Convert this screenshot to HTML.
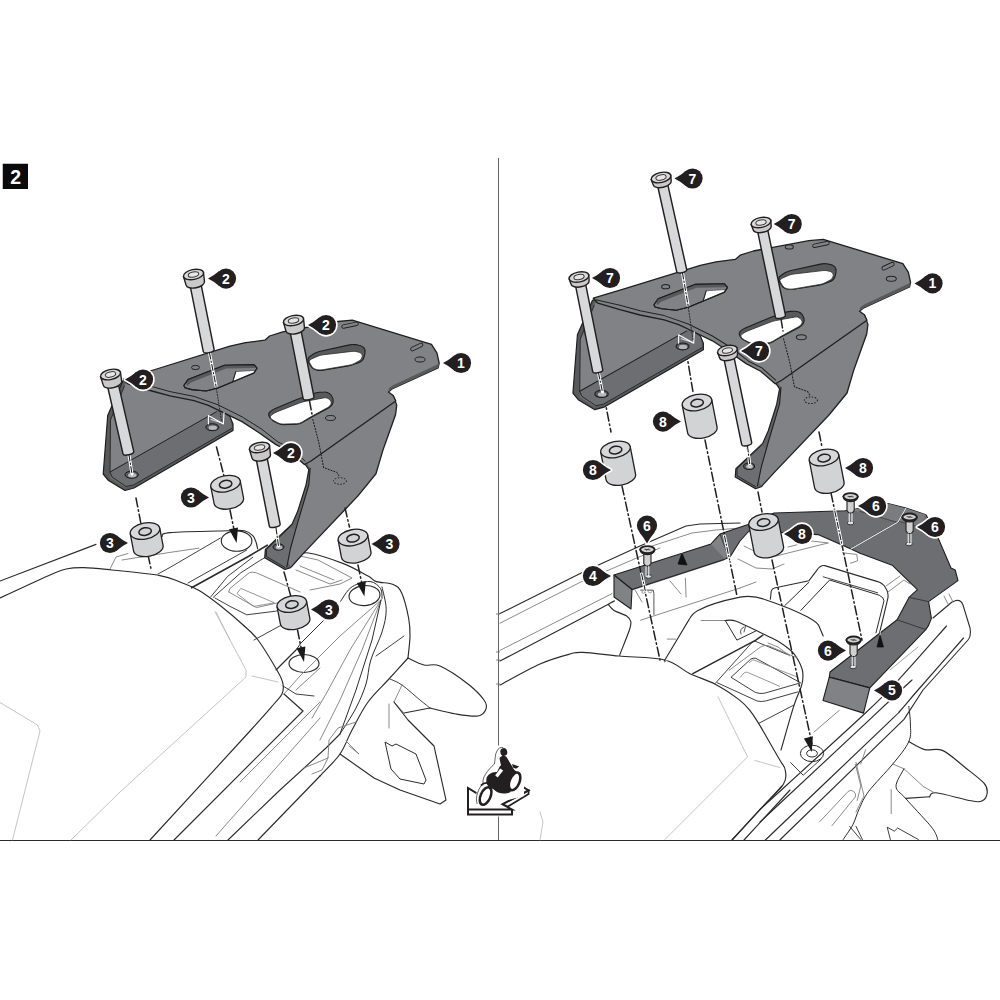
<!DOCTYPE html>
<html><head><meta charset="utf-8"><title>Assembly step 2</title>
<style>
html,body{margin:0;padding:0;background:#fff;}
body{width:1000px;height:1000px;overflow:hidden;position:relative;font-family:"Liberation Sans",sans-serif;}
svg{position:absolute;left:0;top:0;display:block;}
.lb{font-family:"Liberation Sans",sans-serif;font-weight:bold;font-size:14px;fill:#fff;text-anchor:middle;}
.st{font-family:"Liberation Sans",sans-serif;font-weight:bold;font-size:19.5px;fill:#fff;text-anchor:middle;}
</style></head><body>
<svg width="1000" height="1000" viewBox="0 0 1000 1000">
<rect x="0" y="0" width="1000" height="1000" fill="#fff"/>
<line x1="0" y1="840.5" x2="1000" y2="840.5" stroke="#2a2a2a" stroke-width="1.2"/>
<line x1="498.5" y1="158" x2="498.5" y2="840" stroke="#666" stroke-width="1"/>
<rect x="2.75" y="163.75" width="25.25" height="25.25" fill="#0a0a0a"/>
<text x="15.7" y="184" class="st">2</text>
<polyline points="0.0,581.0 96.0,544.4" fill="none" stroke="#2b2b2b" stroke-width="1.15" stroke-linejoin="round" stroke-linecap="round" />
<path d="M0.0,598.0 C8.3,594.2 39.0,579.8 50.0,575.0 C61.0,570.2 60.3,570.2 66.0,569.0 C71.7,567.8 76.3,567.4 84.0,567.6 C91.7,567.8 99.3,568.7 112.0,570.0 C124.7,571.3 148.7,573.6 160.0,575.6 C171.3,577.6 173.3,579.4 180.0,582.0 C186.7,584.6 193.0,586.8 200.0,591.0 C207.0,595.2 215.0,601.5 222.0,607.0 C229.0,612.5 236.0,618.5 242.0,624.0 C248.0,629.5 252.0,632.0 258.0,640.0 C264.0,648.0 273.8,664.7 278.0,672.0 C282.2,679.3 282.3,680.3 283.0,684.0 C283.7,687.7 283.5,690.7 282.0,694.0 C280.5,697.3 279.3,697.8 274.0,704.0 C268.7,710.2 270.7,708.3 250.0,731.0 C229.3,753.7 166.7,821.8 150.0,840.0" fill="none" stroke="#2b2b2b" stroke-width="1.15" stroke-linejoin="round" stroke-linecap="round" />
<polyline points="284.0,694.0 303.0,711.0 174.0,840.0" fill="none" stroke="#2b2b2b" stroke-width="1.15" stroke-linejoin="round" stroke-linecap="round" />
<polyline points="276.0,670.0 296.0,650.0" fill="none" stroke="#2b2b2b" stroke-width="1.15" stroke-linejoin="round" stroke-linecap="round" />
<path d="M162.0,536.5 C163.3,535.9 159.1,533.6 170.0,532.6 C180.9,531.6 215.2,531.1 227.6,530.8 C240.0,530.5 240.2,530.0 244.4,530.8 C248.6,531.6 250.9,533.7 252.8,535.6 C254.7,537.5 255.2,539.8 256.0,542.0 C256.8,544.2 257.3,547.7 257.6,548.8" fill="none" stroke="#2b2b2b" stroke-width="1.15" stroke-linejoin="round" stroke-linecap="round" />
<ellipse cx="236.6" cy="541.0" rx="15.3" ry="10.2" fill="none" stroke="#2b2b2b" stroke-width="1.15" />
<ellipse cx="364.5" cy="595.6" rx="15.5" ry="10.0" fill="none" stroke="#2b2b2b" stroke-width="1.15" transform="rotate(-5 364.5 595.6)" />
<ellipse cx="304.0" cy="663.5" rx="15.0" ry="9.0" fill="none" stroke="#2b2b2b" stroke-width="1.15" />
<polyline points="110.0,569.0 116.0,557.0 128.0,553.5" fill="none" stroke="#7d7d7d" stroke-width="0.9" stroke-linejoin="round" stroke-linecap="round" />
<polyline points="122.0,560.0 170.0,552.4 198.8,548.2" fill="none" stroke="#7d7d7d" stroke-width="0.9" stroke-linejoin="round" stroke-linecap="round" />
<polyline points="158.0,574.0 170.0,567.4 220.4,538.0" fill="none" stroke="#2b2b2b" stroke-width="0.9" stroke-linejoin="round" stroke-linecap="round" />
<polyline points="188.0,583.0 246.8,550.0" fill="none" stroke="#2b2b2b" stroke-width="0.9" stroke-linejoin="round" stroke-linecap="round" />
<polyline points="191.6,587.8 249.2,556.0 267.2,545.2" fill="none" stroke="#2b2b2b" stroke-width="1.6" stroke-linejoin="round" stroke-linecap="round" />
<polyline points="210.8,596.8 227.6,576.4 252.8,557.2" fill="none" stroke="#2b2b2b" stroke-width="0.9" stroke-linejoin="round" stroke-linecap="round" />
<polyline points="213.2,597.4 240.8,572.8 259.4,560.8 266.0,557.0" fill="none" stroke="#2b2b2b" stroke-width="0.9" stroke-linejoin="round" stroke-linecap="round" />
<polyline points="215.0,598.0 230.0,606.4 246.8,614.8 275.6,611.2 280.0,610.0" fill="none" stroke="#2b2b2b" stroke-width="0.9" stroke-linejoin="round" stroke-linecap="round" />
<polyline points="254.0,640.0 280.4,625.6" fill="none" stroke="#2b2b2b" stroke-width="0.9" stroke-linejoin="round" stroke-linecap="round" />
<path d="M228.8,592 L230,588.4 L249.2,572.8 Q252,571.5 256.4,572.8 L300,592 M228.8,592 L256.4,607.6 L278,602.8 L300,597" fill="none" stroke="#7d7d7d" stroke-width="0.9" stroke-linejoin="round" stroke-linecap="round" />
<path d="M237.2,593.2 L240.8,588.4 L274.4,602.8 L254,606.4 Z" fill="none" stroke="#7d7d7d" stroke-width="0.8" stroke-linejoin="round" stroke-linecap="round" />
<polyline points="291.0,566.0 300.0,556.0 318.0,560.0 352.0,578.0 340.0,584.0 310.0,590.0" fill="none" stroke="#7d7d7d" stroke-width="0.9" stroke-linejoin="round" stroke-linecap="round" />
<polyline points="296.0,570.0 330.0,584.0 342.0,580.0" fill="none" stroke="#7d7d7d" stroke-width="0.9" stroke-linejoin="round" stroke-linecap="round" />
<polyline points="300.0,566.0 334.0,580.0" fill="none" stroke="#7d7d7d" stroke-width="0.9" stroke-linejoin="round" stroke-linecap="round" />
<polyline points="215.0,611.8 230.0,640.0" fill="none" stroke="#b5b5b5" stroke-width="0.8" stroke-linejoin="round" stroke-linecap="round" />
<path d="M292.0,566.0 C293.3,564.5 297.2,559.2 300.0,557.0 C302.8,554.8 301.4,551.9 308.5,553.0 C315.6,554.1 332.9,559.6 342.8,563.4 C352.7,567.2 362.4,573.0 368.0,576.0 C373.6,579.0 372.2,580.2 376.4,581.6 C380.6,583.0 389.0,582.5 393.2,584.4 C397.4,586.3 399.0,587.2 401.6,592.8 C404.2,598.4 407.2,610.8 408.6,618.0 C410.0,625.2 410.1,629.3 410.0,636.0 C409.9,642.7 408.3,654.3 408.0,658.0" fill="none" stroke="#2b2b2b" stroke-width="1.15" stroke-linejoin="round" stroke-linecap="round" />
<path d="M340.7,601.2 C342.0,599.3 345.7,592.8 348.4,590.0 C351.1,587.2 353.1,585.8 356.8,584.4 C360.5,583.0 366.8,580.9 370.8,581.6 C374.8,582.3 378.7,585.8 380.6,588.6 C382.5,591.4 381.8,596.8 382.0,598.4" fill="none" stroke="#2b2b2b" stroke-width="1.0" stroke-linejoin="round" stroke-linecap="round" />
<polyline points="323.2,620.8 300.8,643.2 296.0,650.0" fill="none" stroke="#2b2b2b" stroke-width="1.0" stroke-linejoin="round" stroke-linecap="round" />
<path d="M382.0,587.0 C382.7,590.8 386.2,602.1 386.2,609.6 C386.2,617.1 384.6,623.6 382.0,632.0 C379.4,640.4 373.5,651.3 370.8,660.0 C368.1,668.7 368.5,676.0 366.0,684.0 C363.5,692.0 360.3,699.7 356.0,708.0 C351.7,716.3 342.7,729.7 340.0,734.0" fill="none" stroke="#2b2b2b" stroke-width="1.0" stroke-linejoin="round" stroke-linecap="round" />
<polyline points="376.0,656.0 404.0,636.0" fill="none" stroke="#2b2b2b" stroke-width="0.9" stroke-linejoin="round" stroke-linecap="round" />
<polyline points="381.0,600.0 340.0,636.0 300.0,676.0 284.0,694.0" fill="none" stroke="#7d7d7d" stroke-width="0.9" stroke-linejoin="round" stroke-linecap="round" />
<polyline points="381.0,600.0 350.0,650.0 326.0,694.0 312.0,718.0" fill="none" stroke="#7d7d7d" stroke-width="0.9" stroke-linejoin="round" stroke-linecap="round" />
<polyline points="381.0,600.0 362.0,650.0 340.0,700.0 320.0,740.0" fill="none" stroke="#7d7d7d" stroke-width="0.9" stroke-linejoin="round" stroke-linecap="round" />
<polyline points="381.0,600.0 372.0,640.0 356.0,690.0 340.0,734.0" fill="none" stroke="#2b2b2b" stroke-width="1.0" stroke-linejoin="round" stroke-linecap="round" />
<polyline points="320.0,668.0 296.0,690.0" fill="none" stroke="#7d7d7d" stroke-width="0.9" stroke-linejoin="round" stroke-linecap="round" />
<polyline points="283.0,686.0 296.0,694.0 314.0,696.0" fill="none" stroke="#2b2b2b" stroke-width="0.9" stroke-linejoin="round" stroke-linecap="round" />
<polyline points="320.0,702.0 240.0,782.0" fill="none" stroke="#7d7d7d" stroke-width="0.9" stroke-linejoin="round" stroke-linecap="round" />
<polyline points="320.0,718.0 216.0,836.0" fill="none" stroke="#7d7d7d" stroke-width="0.9" stroke-linejoin="round" stroke-linecap="round" />
<polyline points="340.0,734.0 326.0,748.0 280.0,790.0 228.0,840.0" fill="none" stroke="#2b2b2b" stroke-width="1.1" stroke-linejoin="round" stroke-linecap="round" />
<path d="M408.0,658.0 C404.7,661.7 394.7,672.7 388.0,680.0 C381.3,687.3 374.0,693.7 368.0,702.0 C362.0,710.3 356.7,721.3 352.0,730.0 C347.3,738.7 345.3,746.3 340.0,754.0 C334.7,761.7 323.3,772.3 320.0,776.0" fill="none" stroke="#2b2b2b" stroke-width="1.15" stroke-linejoin="round" stroke-linecap="round" />
<polyline points="320.0,776.0 258.0,840.0" fill="none" stroke="#2b2b2b" stroke-width="1.1" stroke-linejoin="round" stroke-linecap="round" />
<polyline points="356.0,722.0 338.0,728.0 329.0,740.0 328.0,758.0 304.0,768.0" fill="none" stroke="#7d7d7d" stroke-width="0.9" stroke-linejoin="round" stroke-linecap="round" />
<polyline points="328.0,758.0 322.0,770.0 312.0,774.0" fill="none" stroke="#7d7d7d" stroke-width="0.9" stroke-linejoin="round" stroke-linecap="round" />
<polyline points="346.0,741.0 359.0,754.0 349.0,746.0" fill="none" stroke="#7d7d7d" stroke-width="0.9" stroke-linejoin="round" stroke-linecap="round" />
<path d="M408.0,658.0 C410.7,659.2 418.7,663.7 424.0,665.0 C429.3,666.3 432.7,662.8 440.0,666.0 C447.3,669.2 460.7,678.3 468.0,684.0 C475.3,689.7 481.0,695.8 484.0,700.0 C487.0,704.2 487.0,706.3 486.0,709.0 C485.0,711.7 483.0,715.2 478.0,716.0 C473.0,716.8 464.0,715.3 456.0,714.0 C448.0,712.7 434.3,709.0 430.0,708.0" fill="none" stroke="#2b2b2b" stroke-width="1.15" stroke-linejoin="round" stroke-linecap="round" />
<polyline points="430.0,708.0 404.0,713.0" fill="none" stroke="#2b2b2b" stroke-width="1.15" stroke-linejoin="round" stroke-linecap="round" />
<path d="M390.0,679.0 C392.0,680.0 397.0,681.5 402.0,685.0 C407.0,688.5 415.3,696.2 420.0,700.0 C424.7,703.8 428.3,706.7 430.0,708.0" fill="none" stroke="#2b2b2b" stroke-width="0.9" stroke-linejoin="round" stroke-linecap="round" />
<polyline points="402.0,685.0 394.0,702.0 404.0,713.0" fill="none" stroke="#7d7d7d" stroke-width="0.9" stroke-linejoin="round" stroke-linecap="round" />
<polyline points="394.0,702.0 408.0,720.0 434.0,746.0 446.0,800.0 440.0,804.0 400.0,790.0 374.0,778.0 340.0,754.0" fill="none" stroke="#2b2b2b" stroke-width="1.15" stroke-linejoin="round" stroke-linecap="round" />
<polyline points="389.0,704.0 389.0,728.0" fill="none" stroke="#7d7d7d" stroke-width="0.9" stroke-linejoin="round" stroke-linecap="round" />
<polygon points="385.0,742.0 392.0,746.0 396.0,744.0 416.0,754.0 426.0,780.0 424.0,784.0 400.0,779.0 391.0,769.0" fill="none" stroke="#2b2b2b" stroke-width="1" stroke-linejoin="round" />
<polyline points="216.0,612.0 230.0,640.0 246.0,670.0 246.0,677.0 120.0,792.0 71.0,840.0" fill="none" stroke="#b5b5b5" stroke-width="0.8" stroke-linejoin="round" stroke-linecap="round" />
<polyline points="252.0,676.0 278.0,682.0" fill="none" stroke="#b5b5b5" stroke-width="0.8" stroke-linejoin="round" stroke-linecap="round" />
<polyline points="0.0,702.5 37.5,725.0 40.0,731.0 12.5,840.0" fill="none" stroke="#b5b5b5" stroke-width="0.8" stroke-linejoin="round" stroke-linecap="round" />
<line x1="496" y1="614" x2="500" y2="614" stroke="#666" stroke-width="0.8"/>
<line x1="496" y1="652" x2="500" y2="652" stroke="#666" stroke-width="0.8"/>
<line x1="496" y1="660" x2="500" y2="660" stroke="#666" stroke-width="0.8"/>
<line x1="496" y1="684" x2="500" y2="684" stroke="#666" stroke-width="0.8"/>
<g transform="translate(281 0) scale(1.0 1) translate(-281 0)">
<polygon points="122.7,381.0 107.7,415.5 103.2,474.0 108.5,480.5 125.0,490.5 134.0,488.0 233.0,430.5 233.0,424.0 230.0,416.8 222.8,412.0 240.0,405.0 200.0,385.0 140.0,375.0" fill="#58595b" stroke="#1f1f1f" stroke-width="1.2" stroke-linejoin="round" />
<polygon points="125.0,384.0 110.5,420.0 110.0,472.0 216.5,411.7 240.0,405.0 190.0,385.0 140.0,377.0" fill="#808285" stroke="none" stroke-width="1" stroke-linejoin="round" />
<polygon points="110.0,472.0 216.5,411.7 223.0,412.5 229.5,417.0 231.5,424.0 231.5,428.5 133.0,485.5 125.0,487.5 110.0,478.0" fill="#6d6e71" stroke="none" stroke-width="1" stroke-linejoin="round" />
<polyline points="110.0,472.0 216.5,411.7" fill="none" stroke="#222" stroke-width="1" stroke-linejoin="round" stroke-linecap="round" />
<polyline points="124.5,386.0 110.5,420.0 110.0,472.0 112.0,477.0 126.0,486.5 133.5,485.0 231.5,428.5" fill="none" stroke="#222" stroke-width="0.9" stroke-linejoin="round" stroke-linecap="round" />
<ellipse cx="131.7" cy="474.7" rx="6.7" ry="3.6" fill="#58595b" stroke="#1a1a1a" stroke-width="1" />
<ellipse cx="132.2" cy="475.2" rx="4.2" ry="2.2" fill="#b5b7ba" stroke="none" stroke-width="1" />
<ellipse cx="212.3" cy="427.2" rx="6.5" ry="3.5" fill="#58595b" stroke="#1a1a1a" stroke-width="1" />
<ellipse cx="212.8" cy="427.7" rx="4.2" ry="2.2" fill="#b5b7ba" stroke="none" stroke-width="1" />
<polygon points="300.0,455.0 302.5,462.6 306.0,465.4 308.8,469.6 306.0,485.0 297.6,511.6 292.0,524.2 265.4,549.4 264.7,557.8 285.0,569.5 290.6,567.6 303.2,553.6 357.8,496.2 376.0,473.8 383.0,450.0 395.6,414.8 396.8,405.2 393.2,395.6" fill="#636467" stroke="#1f1f1f" stroke-width="1.2" stroke-linejoin="round" />
<polygon points="304.0,458.0 310.2,468.2 308.8,485.0 297.6,522.8 290.6,548.0 287.5,561.0 290.6,566.4 302.6,553.0 357.0,495.4 375.0,473.2 382.0,450.0 394.6,414.6 395.8,405.2 394.0,399.0 311.0,452.0" fill="#808285" stroke="none" stroke-width="1" stroke-linejoin="round" />
<polygon points="266.5,549.5 290.0,527.0 296.0,530.0 291.0,545.0 288.0,566.0 284.5,567.5 267.0,556.5" fill="#6d6e71" stroke="none" stroke-width="1" stroke-linejoin="round" />
<polyline points="290.0,527.0 266.5,549.5 266.5,556.5 285.0,567.5" fill="none" stroke="#222" stroke-width="0.9" stroke-linejoin="round" stroke-linecap="round" />
<polyline points="310.2,468.2 308.8,485.0 297.6,522.8 290.6,548.0 286.8,566.8" fill="none" stroke="#1f1f1f" stroke-width="1.1" stroke-linejoin="round" stroke-linecap="round" />
<ellipse cx="278.5" cy="547.0" rx="5.5" ry="3.2" fill="#58595b" stroke="#1a1a1a" stroke-width="1" />
<ellipse cx="279.0" cy="547.5" rx="3.4" ry="1.9" fill="#b5b7ba" stroke="none" stroke-width="1" />
<polygon points="123.5,379.0 155.0,369.5 230.0,346.2 245.6,342.6 264.8,340.2 269.6,336.0 282.8,331.8 338.0,321.5 352.3,320.2 431.5,344.4 437.0,353.2 439.2,363.1 438.1,367.8 392.0,389.0 388.4,392.0 393.2,395.6 395.8,401.0 311.0,461.0 304.5,464.5 290.0,452.0 275.6,444.4 259.4,433.0 242.0,421.6 219.8,410.8 208.4,405.4 194.0,400.6 170.0,395.8 150.0,390.5 128.0,384.0" fill="#808285" stroke="#1f1f1f" stroke-width="1.3" stroke-linejoin="round" />
<polygon points="439.2,363.1 438.1,367.8 392.0,389.0 388.4,392.0 389.0,388.0 392.5,385.5 437.4,364.4" fill="#58595b" stroke="none" stroke-width="1" stroke-linejoin="round" />
<polyline points="305.0,461.0 291.0,448.5 278.0,442.0 261.2,428.8 242.0,416.8 218.0,404.8 194.0,396.4 170.0,391.6 150.0,386.0 126.0,380.5" fill="none" stroke="#232323" stroke-width="1" stroke-linejoin="round" stroke-linecap="round" />
<polygon points="183.8,385.5 188.0,379.6 224.6,365.2 254.0,364.6 257.0,368.2 254.0,373.0 218.0,388.0 206.0,391.0 191.6,389.6 185.0,387.8" fill="#808285" stroke="#1f1f1f" stroke-width="1.1" stroke-linejoin="round" />
<polygon points="186.0,382.0 189.0,379.6 225.0,365.2 254.0,364.6 256.5,367.0 254.0,368.0 226.0,368.5 191.0,382.5 187.0,386.0" fill="#58595b" stroke="none" stroke-width="1" stroke-linejoin="round" />
<polygon points="235.8,371.6 254.6,370.4 254.0,372.6 232.8,381.6" fill="#fff" stroke="#333" stroke-width="0.6" stroke-linejoin="round" />
<polyline points="235.8,371.6 232.8,381.6" fill="none" stroke="#222" stroke-width="1" stroke-linejoin="round" stroke-linecap="round" />
<polygon points="183.8,385.5 188.0,379.6 224.6,365.2 254.0,364.6 257.0,368.2 254.0,373.0 218.0,388.0 206.0,391.0 191.6,389.6 185.0,387.8" fill="none" stroke="#1f1f1f" stroke-width="1.1" stroke-linejoin="round" />
<path d="M269.3,416.6 Q267.8,414.0 269.9,411.9 L269.9,411.9 Q272.0,409.8 274.8,408.7 L296.8,399.5 Q299.6,398.4 302.4,397.4 L313.6,393.4 Q316.4,392.4 319.4,392.2 L324.2,392.0 Q327.2,391.8 329.6,393.6 L329.6,393.6 Q332.0,395.4 332.8,398.3 L333.0,399.1 Q333.8,402.0 332.3,404.4 L332.3,404.4 Q330.8,406.8 328.1,408.2 L313.1,416.2 Q310.4,417.6 307.8,419.2 L302.2,422.6 Q299.6,424.2 296.6,424.3 L283.4,424.7 Q280.4,424.8 277.8,423.3 L273.4,420.9 Q270.8,419.4 269.3,416.8 Z" fill="#58595b" stroke="#1f1f1f" stroke-width="1.1" stroke-linejoin="round" />
<path d="M270.5,417.9 Q269.6,416.4 272.0,414.6 L272.0,414.6 Q274.4,412.8 277.2,411.7 L299.2,403.1 Q302.0,402.0 304.9,401.4 L324.3,397.8 Q327.2,397.2 329.3,399.3 L329.9,399.9 Q332.0,402.0 331.1,404.1 L331.1,404.1 Q330.2,406.2 327.6,407.6 L313.0,415.6 Q310.4,417.0 307.8,418.6 L302.2,422.0 Q299.6,423.6 296.6,423.7 L283.4,424.1 Q280.4,424.2 277.8,422.8 L274.0,420.8 Q271.4,419.4 270.5,417.9 Z" fill="#fff" stroke="#2a2a2a" stroke-width="0.8" stroke-linejoin="round" />
<path d="M308.0,359.4 Q308.0,357.6 310.5,356.0 L313.9,353.8 Q316.4,352.2 319.3,351.5 L349.5,344.9 Q352.4,344.2 355.4,344.6 L359.0,345.2 Q362.0,345.6 363.8,347.7 L363.8,347.7 Q365.6,349.8 365.0,352.7 L364.4,355.9 Q363.8,358.8 362.3,360.3 L362.3,360.3 Q360.8,361.8 358.0,362.9 L354.0,364.3 Q351.2,365.4 348.2,365.9 L323.0,370.1 Q320.0,370.6 317.0,370.1 L317.0,370.1 Q314.0,369.6 312.2,367.8 L312.2,367.8 Q310.4,366.0 309.2,363.6 L309.2,363.6 Q308.0,361.2 308.0,359.4 Z" fill="#58595b" stroke="#1f1f1f" stroke-width="1.1" stroke-linejoin="round" />
<path d="M309.2,361.2 Q309.2,360.0 311.9,358.8 L317.3,356.4 Q320.0,355.2 323.0,354.8 L351.8,351.4 Q354.8,351.0 357.7,351.9 L359.7,352.5 Q362.6,353.4 362.3,356.4 L362.3,356.4 Q362.0,359.4 359.3,360.8 L354.5,363.4 Q351.8,364.8 348.8,365.3 L323.0,369.7 Q320.0,370.2 317.0,369.7 L316.4,369.5 Q313.4,369.0 311.8,366.5 L310.8,364.9 Q309.2,362.4 309.2,361.2 Z" fill="#fff" stroke="#2a2a2a" stroke-width="0.8" stroke-linejoin="round" />
<ellipse cx="195.5" cy="367.5" rx="4.0" ry="2.1" fill="#808285" stroke="#222" stroke-width="1" />
<ellipse cx="330.5" cy="418.0" rx="5.0" ry="2.5" fill="#808285" stroke="#222" stroke-width="1" />
<ellipse cx="420.0" cy="359.5" rx="5.0" ry="2.5" fill="#808285" stroke="#222" stroke-width="1" />
<line x1="343.5" y1="326.6" x2="356.5" y2="323.8" stroke="#222" stroke-width="4.4" stroke-linecap="round"/><line x1="343.5" y1="326.6" x2="356.5" y2="323.8" stroke="#808285" stroke-width="2.6" stroke-linecap="round"/>
<line x1="412.5" y1="349" x2="421" y2="345" stroke="#222" stroke-width="4.6" stroke-linecap="round"/><line x1="412.5" y1="349" x2="421" y2="345" stroke="#808285" stroke-width="2.8" stroke-linecap="round"/>
<polyline points="312.8,419.6 318.8,442.4 323.6,467.6 336.8,472.4 339.8,477.2" fill="none" stroke="#1a1a1a" stroke-width="1" stroke-linejoin="round" stroke-linecap="round" stroke-dasharray="1.2 1.8"/>
<ellipse cx="340.0" cy="481.0" rx="6.5" ry="3.3" fill="none" stroke="#1a1a1a" stroke-width="1" stroke-dasharray="1.4 1.6"/>
<polyline points="208.4,424.0 208.4,415.6 223.4,424.0 224.0,412.6" fill="none" stroke="#fff" stroke-width="1.1" stroke-linejoin="round" stroke-linecap="round" />
<polyline points="211.0,419.5 222.0,423.0" fill="none" stroke="#fff" stroke-width="0.8" stroke-linejoin="round" stroke-linecap="round" />
<ellipse cx="318.5" cy="327.7" rx="4.0" ry="2.1" fill="#808285" stroke="#222" stroke-width="1" />
</g>
<polyline points="209.5,353.0 216.0,386.0" fill="none" stroke="#fff" stroke-width="3.0" stroke-linejoin="round" stroke-linecap="round" stroke-linecap="butt"/>
<polyline points="209.5,353.0 216.0,386.0" fill="none" stroke="#231f20" stroke-width="1.1" stroke-linejoin="round" stroke-linecap="round" stroke-dasharray="6 2.2 1.3 2.2" stroke-linecap="butt"/>
<polyline points="216.0,386.0 221.5,421.0" fill="none" stroke="#222" stroke-width="0.9" stroke-linejoin="round" stroke-linecap="round" stroke-dasharray="1.2 1.6"/>
<polyline points="216.5,447.0 224.0,476.0" fill="none" stroke="#231f20" stroke-width="1.5" stroke-linejoin="round" stroke-linecap="round" stroke-dasharray="9 3 1.5 3" stroke-linecap="butt"/>
<polyline points="129.0,455.0 132.0,474.0" fill="none" stroke="#fff" stroke-width="3.0" stroke-linejoin="round" stroke-linecap="round" stroke-linecap="butt"/>
<polyline points="129.0,455.0 132.0,474.0" fill="none" stroke="#231f20" stroke-width="1.1" stroke-linejoin="round" stroke-linecap="round" stroke-dasharray="6 2.2 1.3 2.2" stroke-linecap="butt"/>
<polyline points="136.0,498.0 141.0,524.0" fill="none" stroke="#231f20" stroke-width="1.5" stroke-linejoin="round" stroke-linecap="round" stroke-dasharray="9 3 1.5 3" stroke-linecap="butt"/>
<polyline points="148.0,555.0 151.5,571.0" fill="none" stroke="#231f20" stroke-width="1.5" stroke-linejoin="round" stroke-linecap="round" stroke-dasharray="9 3 1.5 3" stroke-linecap="butt"/>
<polyline points="309.5,401.0 312.0,414.0" fill="none" stroke="#231f20" stroke-width="1.5" stroke-linejoin="round" stroke-linecap="round" stroke-dasharray="9 3 1.5 3" stroke-linecap="butt"/>
<polyline points="276.0,528.0 278.5,546.0" fill="none" stroke="#fff" stroke-width="3.0" stroke-linejoin="round" stroke-linecap="round" stroke-linecap="butt"/>
<polyline points="276.0,528.0 278.5,546.0" fill="none" stroke="#231f20" stroke-width="1.1" stroke-linejoin="round" stroke-linecap="round" stroke-dasharray="6 2.2 1.3 2.2" stroke-linecap="butt"/>
<polyline points="284.0,572.0 291.0,597.0" fill="none" stroke="#231f20" stroke-width="1.5" stroke-linejoin="round" stroke-linecap="round" stroke-dasharray="9 3 1.5 3" stroke-linecap="butt"/>
<polyline points="345.0,508.0 349.5,527.0" fill="none" stroke="#231f20" stroke-width="1.5" stroke-linejoin="round" stroke-linecap="round" stroke-dasharray="9 3 1.5 3" stroke-linecap="butt"/>
<polyline points="230.0,510.0 235.5,537.0" fill="none" stroke="#231f20" stroke-width="1.5" stroke-linejoin="round" stroke-linecap="round" stroke-dasharray="9 3 1.5 3" stroke-linecap="butt"/>
<polygon points="236.6,543.0 229.0,529.3 238.0,527.4" fill="#1a1a1a" stroke="none" stroke-width="0" stroke-linejoin="round" />
<polyline points="358.0,565.0 363.2,590.0" fill="none" stroke="#231f20" stroke-width="1.5" stroke-linejoin="round" stroke-linecap="round" stroke-dasharray="9 3 1.5 3" stroke-linecap="butt"/>
<polygon points="364.4,596.6 356.8,582.9 365.8,581.0" fill="#1a1a1a" stroke="none" stroke-width="0" stroke-linejoin="round" />
<polyline points="297.5,630.0 302.8,656.0" fill="none" stroke="#231f20" stroke-width="1.5" stroke-linejoin="round" stroke-linecap="round" stroke-dasharray="9 3 1.5 3" stroke-linecap="butt"/>
<polygon points="304.0,662.0 296.4,648.3 305.4,646.4" fill="#1a1a1a" stroke="none" stroke-width="0" stroke-linejoin="round" />
<g transform="translate(225.5 483.7) rotate(-11)">
<path d="M-15.0,0 L-15.0,17.5 A15.0,8.0 0 0 0 15.0,17.5 L15.0,0 Z" fill="#d1d3d4" stroke="#231f20" stroke-width="1.3" stroke-linejoin="round"/>
<ellipse cx="0" cy="0" rx="15.0" ry="8.0" fill="#d6d8d9" stroke="#231f20" stroke-width="1.3"/>
<ellipse cx="0" cy="0.6" rx="6.3" ry="3.8" fill="#d1d3d4" stroke="#231f20" stroke-width="1.5"/>
</g>
<g transform="translate(145.0 531.0) rotate(-11)">
<path d="M-15.0,0 L-15.0,17.5 A15.0,8.0 0 0 0 15.0,17.5 L15.0,0 Z" fill="#d1d3d4" stroke="#231f20" stroke-width="1.3" stroke-linejoin="round"/>
<ellipse cx="0" cy="0" rx="15.0" ry="8.0" fill="#d6d8d9" stroke="#231f20" stroke-width="1.3"/>
<ellipse cx="0" cy="0.6" rx="6.3" ry="3.8" fill="#d1d3d4" stroke="#231f20" stroke-width="1.5"/>
</g>
<g transform="translate(352.9 537.6) rotate(-11)">
<path d="M-15.0,0 L-15.0,17.5 A15.0,8.0 0 0 0 15.0,17.5 L15.0,0 Z" fill="#d1d3d4" stroke="#231f20" stroke-width="1.3" stroke-linejoin="round"/>
<ellipse cx="0" cy="0" rx="15.0" ry="8.0" fill="#d6d8d9" stroke="#231f20" stroke-width="1.3"/>
<ellipse cx="0" cy="0.6" rx="6.3" ry="3.8" fill="#d1d3d4" stroke="#231f20" stroke-width="1.5"/>
</g>
<g transform="translate(291.8 604.0) rotate(-11)">
<path d="M-15.0,0 L-15.0,17.5 A15.0,8.0 0 0 0 15.0,17.5 L15.0,0 Z" fill="#d1d3d4" stroke="#231f20" stroke-width="1.3" stroke-linejoin="round"/>
<ellipse cx="0" cy="0" rx="15.0" ry="8.0" fill="#d6d8d9" stroke="#231f20" stroke-width="1.3"/>
<ellipse cx="0" cy="0.6" rx="6.3" ry="3.8" fill="#d1d3d4" stroke="#231f20" stroke-width="1.5"/>
</g>
<g transform="translate(193.5 274.5) rotate(-11.31)">
<path d="M-5.5,9.0 L-5.5,77.5 A5.5,2.2 0 0 0 5.5,77.5 L5.5,9.0 Z" fill="#d6d8d9" stroke="#231f20" stroke-width="1.45"/>
<path d="M-10.2,0 L-9.4,9.0 A9.4,4.5 0 0 0 9.4,9.0 L10.2,0 Z" fill="#c9c9c9" stroke="#231f20" stroke-width="1.4"/>
<ellipse cx="0" cy="0" rx="10.2" ry="5" fill="#d8d8d8" stroke="#231f20" stroke-width="1.4"/>
<ellipse cx="0" cy="0" rx="5.3" ry="2.6" fill="#e6e6e6" stroke="#3a3a3a" stroke-width="1"/>
</g>
<g transform="translate(293.5 320.5) rotate(-11.03)">
<path d="M-5.5,9.0 L-5.5,78.5 A5.5,2.2 0 0 0 5.5,78.5 L5.5,9.0 Z" fill="#d6d8d9" stroke="#231f20" stroke-width="1.45"/>
<path d="M-10.2,0 L-9.4,9.0 A9.4,4.5 0 0 0 9.4,9.0 L10.2,0 Z" fill="#c9c9c9" stroke="#231f20" stroke-width="1.4"/>
<ellipse cx="0" cy="0" rx="10.2" ry="5" fill="#d8d8d8" stroke="#231f20" stroke-width="1.4"/>
<ellipse cx="0" cy="0" rx="5.3" ry="2.6" fill="#e6e6e6" stroke="#3a3a3a" stroke-width="1"/>
</g>
<g transform="translate(110.5 374.5) rotate(-12.89)">
<path d="M-5.5,9.0 L-5.5,80.1 A5.5,2.2 0 0 0 5.5,80.1 L5.5,9.0 Z" fill="#d6d8d9" stroke="#231f20" stroke-width="1.45"/>
<path d="M-10.2,0 L-9.4,9.0 A9.4,4.5 0 0 0 9.4,9.0 L10.2,0 Z" fill="#c9c9c9" stroke="#231f20" stroke-width="1.4"/>
<ellipse cx="0" cy="0" rx="10.2" ry="5" fill="#d8d8d8" stroke="#231f20" stroke-width="1.4"/>
<ellipse cx="0" cy="0" rx="5.3" ry="2.6" fill="#e6e6e6" stroke="#3a3a3a" stroke-width="1"/>
</g>
<g transform="translate(259.5 447.5) rotate(-11.10)">
<path d="M-5.5,9.0 L-5.5,79.0 A5.5,2.2 0 0 0 5.5,79.0 L5.5,9.0 Z" fill="#d6d8d9" stroke="#231f20" stroke-width="1.45"/>
<path d="M-10.2,0 L-9.4,9.0 A9.4,4.5 0 0 0 9.4,9.0 L10.2,0 Z" fill="#c9c9c9" stroke="#231f20" stroke-width="1.4"/>
<ellipse cx="0" cy="0" rx="10.2" ry="5" fill="#d8d8d8" stroke="#231f20" stroke-width="1.4"/>
<ellipse cx="0" cy="0" rx="5.3" ry="2.6" fill="#e6e6e6" stroke="#3a3a3a" stroke-width="1"/>
</g>
<g>
<circle cx="226.0" cy="278.6" r="10.1" fill="#fff" stroke="#fff" stroke-width="3.2"/>
<path d="M219.2,271.1 Q213.4,276.0 208.0,278.6 Q213.4,281.2 219.2,286.1 Z" fill="#fff" stroke="#fff" stroke-width="3.2" stroke-linejoin="round"/>
<circle cx="226.0" cy="278.6" r="10.1" fill="#231f20"/>
<path d="M219.2,271.1 Q213.4,276.0 208.0,278.6 Q213.4,281.2 219.2,286.1 Z" fill="#231f20"/>
<text x="226.0" y="283.6" class="lb">2</text>
</g>
<g>
<circle cx="326.0" cy="325.0" r="10.1" fill="#fff" stroke="#fff" stroke-width="3.2"/>
<path d="M319.2,317.5 Q313.4,322.4 308.0,325.0 Q313.4,327.6 319.2,332.5 Z" fill="#fff" stroke="#fff" stroke-width="3.2" stroke-linejoin="round"/>
<circle cx="326.0" cy="325.0" r="10.1" fill="#231f20"/>
<path d="M319.2,317.5 Q313.4,322.4 308.0,325.0 Q313.4,327.6 319.2,332.5 Z" fill="#231f20"/>
<text x="326.0" y="330.0" class="lb">2</text>
</g>
<g>
<circle cx="143.0" cy="379.5" r="10.1" fill="#fff" stroke="#fff" stroke-width="3.2"/>
<path d="M136.2,372.0 Q130.4,376.9 125.0,379.5 Q130.4,382.1 136.2,387.0 Z" fill="#fff" stroke="#fff" stroke-width="3.2" stroke-linejoin="round"/>
<circle cx="143.0" cy="379.5" r="10.1" fill="#231f20"/>
<path d="M136.2,372.0 Q130.4,376.9 125.0,379.5 Q130.4,382.1 136.2,387.0 Z" fill="#231f20"/>
<text x="143.0" y="384.5" class="lb">2</text>
</g>
<g>
<circle cx="291.0" cy="453.0" r="10.1" fill="#fff" stroke="#fff" stroke-width="3.2"/>
<path d="M284.2,445.5 Q278.4,450.4 273.0,453.0 Q278.4,455.6 284.2,460.5 Z" fill="#fff" stroke="#fff" stroke-width="3.2" stroke-linejoin="round"/>
<circle cx="291.0" cy="453.0" r="10.1" fill="#231f20"/>
<path d="M284.2,445.5 Q278.4,450.4 273.0,453.0 Q278.4,455.6 284.2,460.5 Z" fill="#231f20"/>
<text x="291.0" y="458.0" class="lb">2</text>
</g>
<g>
<circle cx="461.0" cy="363.0" r="10.1" fill="#fff" stroke="#fff" stroke-width="3.2"/>
<path d="M454.2,355.5 Q448.4,360.4 443.0,363.0 Q448.4,365.6 454.2,370.5 Z" fill="#fff" stroke="#fff" stroke-width="3.2" stroke-linejoin="round"/>
<circle cx="461.0" cy="363.0" r="10.1" fill="#231f20"/>
<path d="M454.2,355.5 Q448.4,360.4 443.0,363.0 Q448.4,365.6 454.2,370.5 Z" fill="#231f20"/>
<text x="461.0" y="368.0" class="lb">1</text>
</g>
<g>
<circle cx="191.0" cy="497.5" r="10.1" fill="#fff" stroke="#fff" stroke-width="3.2"/>
<path d="M197.8,505.0 Q203.6,500.1 209.0,497.5 Q203.6,494.9 197.8,490.0 Z" fill="#fff" stroke="#fff" stroke-width="3.2" stroke-linejoin="round"/>
<circle cx="191.0" cy="497.5" r="10.1" fill="#231f20"/>
<path d="M197.8,505.0 Q203.6,500.1 209.0,497.5 Q203.6,494.9 197.8,490.0 Z" fill="#231f20"/>
<text x="191.0" y="502.5" class="lb">3</text>
</g>
<g>
<circle cx="110.0" cy="543.0" r="10.1" fill="#fff" stroke="#fff" stroke-width="3.2"/>
<path d="M116.8,550.5 Q122.6,545.6 128.0,543.0 Q122.6,540.4 116.8,535.5 Z" fill="#fff" stroke="#fff" stroke-width="3.2" stroke-linejoin="round"/>
<circle cx="110.0" cy="543.0" r="10.1" fill="#231f20"/>
<path d="M116.8,550.5 Q122.6,545.6 128.0,543.0 Q122.6,540.4 116.8,535.5 Z" fill="#231f20"/>
<text x="110.0" y="548.0" class="lb">3</text>
</g>
<g>
<circle cx="389.5" cy="544.0" r="10.1" fill="#fff" stroke="#fff" stroke-width="3.2"/>
<path d="M382.7,536.5 Q376.9,541.4 371.5,544.0 Q376.9,546.6 382.7,551.5 Z" fill="#fff" stroke="#fff" stroke-width="3.2" stroke-linejoin="round"/>
<circle cx="389.5" cy="544.0" r="10.1" fill="#231f20"/>
<path d="M382.7,536.5 Q376.9,541.4 371.5,544.0 Q376.9,546.6 382.7,551.5 Z" fill="#231f20"/>
<text x="389.5" y="549.0" class="lb">3</text>
</g>
<g>
<circle cx="329.0" cy="609.5" r="10.1" fill="#fff" stroke="#fff" stroke-width="3.2"/>
<path d="M322.2,602.0 Q316.4,606.9 311.0,609.5 Q316.4,612.1 322.2,617.0 Z" fill="#fff" stroke="#fff" stroke-width="3.2" stroke-linejoin="round"/>
<circle cx="329.0" cy="609.5" r="10.1" fill="#231f20"/>
<path d="M322.2,602.0 Q316.4,606.9 311.0,609.5 Q316.4,612.1 322.2,617.0 Z" fill="#231f20"/>
<text x="329.0" y="614.5" class="lb">3</text>
</g>
<path d="M500.0,685.0 C506.7,681.5 528.3,669.2 540.0,664.0 C551.7,658.8 562.8,655.9 570.0,654.0 C577.2,652.1 574.8,652.1 583.0,652.4 C591.2,652.7 605.3,654.7 619.0,656.0 C632.7,657.3 653.2,657.0 665.0,660.0 C676.8,663.0 681.6,669.7 690.0,673.7 C698.4,677.7 707.0,679.9 715.2,684.2 C723.4,688.5 733.2,695.2 739.0,699.6 C744.8,704.0 746.9,706.8 750.2,710.8 C753.5,714.8 754.6,716.9 758.6,723.4 C762.6,729.9 770.3,743.6 774.0,750.0 C777.7,756.4 779.1,758.7 781.0,762.0 C782.9,765.3 784.8,766.3 785.2,770.0 C785.6,773.7 787.6,777.6 783.4,784.2 C779.2,790.8 768.6,800.1 760.0,809.4 C751.4,818.7 736.7,834.9 732.0,840.0" fill="none" stroke="#2b2b2b" stroke-width="1.15" stroke-linejoin="round" stroke-linecap="round" />
<polyline points="500.0,613.6 583.2,572.0 640.0,546.0 686.0,526.0 700.0,524.0 740.0,523.0" fill="none" stroke="#2b2b2b" stroke-width="1.15" stroke-linejoin="round" stroke-linecap="round" />
<polyline points="500.0,623.2 580.0,582.4 660.0,548.0" fill="none" stroke="#7d7d7d" stroke-width="0.9" stroke-linejoin="round" stroke-linecap="round" />
<polyline points="646.0,548.0 692.0,533.0 716.0,530.0 740.0,528.0" fill="none" stroke="#7d7d7d" stroke-width="0.9" stroke-linejoin="round" stroke-linecap="round" />
<polyline points="500.0,650.4 612.0,593.6" fill="none" stroke="#7d7d7d" stroke-width="0.9" stroke-linejoin="round" stroke-linecap="round" />
<path d="M500.0,661.0 C517.7,651.8 587.9,614.9 606.0,605.5 C624.1,596.1 607.1,604.0 608.4,604.8 C609.7,605.6 611.0,608.5 614.0,610.4 C617.0,612.3 623.8,614.1 626.6,616.0 C629.4,617.9 630.3,619.3 630.8,621.6 C631.3,623.9 631.3,624.4 629.4,630.0 C627.5,635.6 621.2,651.0 619.6,655.2" fill="none" stroke="#2b2b2b" stroke-width="1.15" stroke-linejoin="round" stroke-linecap="round" />
<polyline points="688.8,620.0 664.8,662.0" fill="none" stroke="#2b2b2b" stroke-width="0.9" stroke-linejoin="round" stroke-linecap="round" />
<polyline points="640.6,590.1 653.2,590.1 653.9,593.6 653.9,614.6" fill="none" stroke="#2b2b2b" stroke-width="0.8" stroke-linejoin="round" stroke-linecap="round" />
<ellipse cx="643.5" cy="592.0" rx="1.8" ry="1.2" fill="none" stroke="#7d7d7d" stroke-width="0.7" />
<ellipse cx="650.0" cy="591.6" rx="1.8" ry="1.2" fill="none" stroke="#7d7d7d" stroke-width="0.7" />
<polyline points="685.4,578.2 686.1,597.1" fill="none" stroke="#7d7d7d" stroke-width="0.9" stroke-linejoin="round" stroke-linecap="round" />
<polyline points="670.0,581.0 681.0,594.0" fill="none" stroke="#7d7d7d" stroke-width="0.9" stroke-linejoin="round" stroke-linecap="round" />
<polyline points="635.0,590.0 642.0,602.0" fill="none" stroke="#7d7d7d" stroke-width="0.9" stroke-linejoin="round" stroke-linecap="round" />
<polyline points="667.2,639.1 675.6,639.1" fill="none" stroke="#7d7d7d" stroke-width="0.9" stroke-linejoin="round" stroke-linecap="round" />
<polyline points="640.6,620.2 740.0,588.0" fill="none" stroke="#7d7d7d" stroke-width="0.9" stroke-linejoin="round" stroke-linecap="round" />
<polyline points="632.0,590.0 724.0,560.0" fill="none" stroke="#7d7d7d" stroke-width="0.9" stroke-linejoin="round" stroke-linecap="round" />
<polyline points="744.0,546.0 760.0,554.0 772.0,557.0 828.0,543.0" fill="none" stroke="#7d7d7d" stroke-width="0.9" stroke-linejoin="round" stroke-linecap="round" />
<polyline points="738.0,559.0 756.0,568.0 772.0,569.0 784.0,564.0" fill="none" stroke="#7d7d7d" stroke-width="0.9" stroke-linejoin="round" stroke-linecap="round" />
<polyline points="788.0,547.0 812.0,541.0 828.0,543.0" fill="none" stroke="#7d7d7d" stroke-width="0.9" stroke-linejoin="round" stroke-linecap="round" />
<polyline points="740.0,588.0 756.0,582.0" fill="none" stroke="#7d7d7d" stroke-width="0.9" stroke-linejoin="round" stroke-linecap="round" />
<path d="M664.4,660.8 L689.6,618.8 C692,614 695,612 698,610.4 C706,606 716,602 740,597.1 C750,595.5 758,597 764,599.2 C780,604.5 800,613 807.2,616.8 C813,620 817,623 818.4,624.8 L823.2,636" fill="#fff" stroke="#2b2b2b" stroke-width="1.15" stroke-linejoin="round" stroke-linecap="round" />
<polyline points="725.7,621.2 736.9,640.1 755.8,631.0" fill="none" stroke="#2b2b2b" stroke-width="1.0" stroke-linejoin="round" stroke-linecap="round" />
<polyline points="701.2,620.5 725.0,620.5" fill="none" stroke="#7d7d7d" stroke-width="0.9" stroke-linejoin="round" stroke-linecap="round" />
<path d="M741,634 Q739,629 744,627 M744,632 L745.5,626.5" fill="none" stroke="#2b2b2b" stroke-width="0.8" stroke-linejoin="round" stroke-linecap="round" />
<path d="M725.0,620.5 C726.9,620.6 729.9,619.0 736.2,621.2 C742.5,623.4 755.6,630.3 762.8,633.8 C770.0,637.3 774.5,638.9 779.6,642.2 C784.7,645.5 789.9,649.0 793.6,653.4 C797.3,657.8 800.5,664.4 802.0,668.8 C803.5,673.2 802.9,676.7 802.7,680.0 C802.5,683.3 802.1,684.0 800.6,688.4 C799.1,692.8 796.9,696.3 793.6,706.6 C790.3,716.9 783.1,742.8 781.0,750.0" fill="none" stroke="#2b2b2b" stroke-width="1.15" stroke-linejoin="round" stroke-linecap="round" />
<polyline points="692.8,673.7 755.8,640.1 762.8,635.2" fill="none" stroke="#2b2b2b" stroke-width="1.5" stroke-linejoin="round" stroke-linecap="round" />
<path d="M715.2,683.5 L751.6,642.9 Q753.5,641 755.8,641.5 L788,654.8" fill="none" stroke="#2b2b2b" stroke-width="0.9" stroke-linejoin="round" stroke-linecap="round" />
<path d="M717.3,682.8 L757.2,701 Q761,702 765.6,701 L797.8,691.9" fill="none" stroke="#2b2b2b" stroke-width="0.9" stroke-linejoin="round" stroke-linecap="round" />
<path d="M729.2,670.2 L761.4,646.4 Q765,645 768.4,645.7 L796.4,657.6" fill="none" stroke="#7d7d7d" stroke-width="0.9" stroke-linejoin="round" stroke-linecap="round" />
<path d="M731.3,677 L750.9,659 Q753,657.8 755.8,658.3 L800.6,682.8 L764.2,693.3 Q760,694 755.8,692.6 Z" fill="none" stroke="#2b2b2b" stroke-width="0.9" stroke-linejoin="round" stroke-linecap="round" />
<path d="M740.4,677.2 L743.9,673 Q745.5,672 747.4,672.3 L779.6,686.3" fill="none" stroke="#7d7d7d" stroke-width="0.8" stroke-linejoin="round" stroke-linecap="round" />
<path d="M749.5,662.5 L753,659.7 L797.8,677.2" fill="none" stroke="#7d7d7d" stroke-width="0.8" stroke-linejoin="round" stroke-linecap="round" />
<polyline points="758.6,723.4 793.6,705.2" fill="none" stroke="#2b2b2b" stroke-width="0.9" stroke-linejoin="round" stroke-linecap="round" />
<polyline points="768.0,643.0 778.0,647.0 790.0,656.0" fill="none" stroke="#7d7d7d" stroke-width="0.9" stroke-linejoin="round" stroke-linecap="round" />
<polyline points="718.0,696.8 747.6,756.8 664.8,839.6" fill="none" stroke="#b5b5b5" stroke-width="0.8" stroke-linejoin="round" stroke-linecap="round" />
<polyline points="754.8,760.4 780.0,767.6" fill="none" stroke="#b5b5b5" stroke-width="0.8" stroke-linejoin="round" stroke-linecap="round" />
<polyline points="540.0,812.0 543.0,822.0 540.0,840.0" fill="none" stroke="#b5b5b5" stroke-width="0.8" stroke-linejoin="round" stroke-linecap="round" />
<polyline points="782.0,786.0 732.0,840.0" fill="none" stroke="#2b2b2b" stroke-width="1.15" stroke-linejoin="round" stroke-linecap="round" />
<polyline points="790.0,790.0 744.0,840.0" fill="none" stroke="#2b2b2b" stroke-width="1.15" stroke-linejoin="round" stroke-linecap="round" />
<path d="M770.4,599.2 L771.2,591.2 Q772,588.5 774.4,588 L808.8,580.8 L816.8,570.4 Q820,565 824.8,565.6 L877.6,581.6 Q884,584 885.6,588 Q888.5,592 888,597.6 L879.2,634.4" fill="none" stroke="#2b2b2b" stroke-width="1.1" stroke-linejoin="round" stroke-linecap="round" />
<path d="M800.8,610.4 L829.6,580 L879.2,595.2 Q884,597.5 884,600.8 L876,632.8" fill="none" stroke="#2b2b2b" stroke-width="1.0" stroke-linejoin="round" stroke-linecap="round" />
<polyline points="823.2,576.8 877.6,592.8" fill="none" stroke="#2b2b2b" stroke-width="0.9" stroke-linejoin="round" stroke-linecap="round" />
<polyline points="784.8,605.6 808.8,582.4" fill="none" stroke="#2b2b2b" stroke-width="1.0" stroke-linejoin="round" stroke-linecap="round" />
<polyline points="842.4,552.8 856.8,554.4 857.6,560.8 850.4,563.2" fill="none" stroke="#7d7d7d" stroke-width="0.9" stroke-linejoin="round" stroke-linecap="round" />
<polyline points="888.0,592.0 904.0,580.0 910.0,584.0" fill="none" stroke="#7d7d7d" stroke-width="0.9" stroke-linejoin="round" stroke-linecap="round" />
<polyline points="886.0,586.0 900.0,576.0" fill="none" stroke="#7d7d7d" stroke-width="0.9" stroke-linejoin="round" stroke-linecap="round" />
<path d="M760.0,809.4 C777.4,793.5 841.3,735.6 864.4,714.0 C887.5,692.4 884.9,694.5 898.6,679.8 C912.3,665.1 938.5,635.0 946.5,626.0" fill="none" stroke="#2b2b2b" stroke-width="1.15" stroke-linejoin="round" stroke-linecap="round" />
<polyline points="760.0,822.0 868.0,721.2 900.0,691.0 912.0,680.0" fill="none" stroke="#2b2b2b" stroke-width="1.15" stroke-linejoin="round" stroke-linecap="round" />
<path d="M765.4,840.0 C785.5,820.8 863.6,746.3 886.0,724.8 C908.4,703.3 894.7,716.8 900.0,711.0 C905.3,705.2 907.4,702.2 918.0,690.0 C928.6,677.8 955.9,646.7 963.5,638.0" fill="none" stroke="#2b2b2b" stroke-width="1.15" stroke-linejoin="round" stroke-linecap="round" />
<path d="M779.8,840 L904,719.4 L923,690 L968,640 Q971.5,636 970,628 L963,605 Q961,599.5 956,600.5 L952,602 L933,618" fill="none" stroke="#2b2b2b" stroke-width="1.1" stroke-linejoin="round" stroke-linecap="round" />
<polyline points="918.0,647.0 890.0,670.0" fill="none" stroke="#7d7d7d" stroke-width="0.7" stroke-linejoin="round" stroke-linecap="round" />
<polyline points="944.0,596.0 948.0,604.0" fill="none" stroke="#7d7d7d" stroke-width="0.9" stroke-linejoin="round" stroke-linecap="round" />
<polyline points="949.0,594.0 953.0,602.0" fill="none" stroke="#7d7d7d" stroke-width="0.9" stroke-linejoin="round" stroke-linecap="round" />
<path d="M908.8,706.4 C909.1,709.3 910.4,718.1 910.4,724.0 C910.4,729.9 911.7,734.9 908.8,741.6 C905.9,748.3 899.5,755.7 892.8,764.0 C886.1,772.3 874.4,783.7 868.8,791.2 C863.2,798.7 861.9,803.2 859.2,808.8 C856.5,814.4 855.5,819.7 852.8,824.8 C850.1,829.9 844.8,837.0 843.2,839.5" fill="none" stroke="#2b2b2b" stroke-width="1.0" stroke-linejoin="round" stroke-linecap="round" />
<polyline points="855.4,764.4 860.8,786.0 857.2,800.4" fill="none" stroke="#7d7d7d" stroke-width="0.9" stroke-linejoin="round" stroke-linecap="round" />
<polyline points="790.6,762.6 803.2,775.2 821.2,759.0" fill="none" stroke="#2b2b2b" stroke-width="0.9" stroke-linejoin="round" stroke-linecap="round" />
<polyline points="814.0,732.0 839.2,710.4" fill="none" stroke="#7d7d7d" stroke-width="0.9" stroke-linejoin="round" stroke-linecap="round" />
<path d="M908.8,741.6 C911.5,742.9 919.2,748.1 924.8,749.6 C930.4,751.1 935.7,747.5 942.4,750.4 C949.1,753.3 957.9,761.7 964.8,767.2 C971.7,772.7 980.3,778.9 984.0,783.2 C987.7,787.5 987.5,789.9 987.2,792.8 C986.9,795.7 985.1,799.5 982.4,800.8 C979.7,802.1 978.9,802.1 971.2,800.8 C963.5,799.5 942.9,793.5 936.0,792.8 C929.1,792.1 930.7,796.1 929.6,796.8" fill="none" stroke="#2b2b2b" stroke-width="1.15" stroke-linejoin="round" stroke-linecap="round" />
<polyline points="929.6,796.8 905.6,798.4" fill="none" stroke="#2b2b2b" stroke-width="1.15" stroke-linejoin="round" stroke-linecap="round" />
<polyline points="892.8,764.0 904.0,768.8 923.2,786.4 934.4,792.8" fill="none" stroke="#7d7d7d" stroke-width="0.9" stroke-linejoin="round" stroke-linecap="round" />
<path d="M904.0,768.8 C902.7,771.7 895.7,781.5 896.0,786.4 C896.3,791.3 900.0,792.0 905.6,798.4 C911.2,804.8 924.5,818.8 929.6,824.8 C934.7,830.8 934.7,831.9 936.0,834.4 C937.3,836.9 937.3,838.6 937.6,839.5" fill="none" stroke="#2b2b2b" stroke-width="1.0" stroke-linejoin="round" stroke-linecap="round" />
<polyline points="891.2,789.6 891.2,813.6" fill="none" stroke="#7d7d7d" stroke-width="0.9" stroke-linejoin="round" stroke-linecap="round" />
<polyline points="890.4,839.5 887.2,827.2 894.4,831.2 897.6,828.0 918.4,839.5" fill="none" stroke="#2b2b2b" stroke-width="0.9" stroke-linejoin="round" stroke-linecap="round" />
<polyline points="856.0,762.4 864.0,796.0 856.0,812.0" fill="none" stroke="#7d7d7d" stroke-width="0.9" stroke-linejoin="round" stroke-linecap="round" />
<polyline points="865.6,749.6 860.8,764.0" fill="none" stroke="#7d7d7d" stroke-width="0.9" stroke-linejoin="round" stroke-linecap="round" />
<polyline points="849.6,826.4 860.8,839.5" fill="none" stroke="#2b2b2b" stroke-width="0.9" stroke-linejoin="round" stroke-linecap="round" />
<polyline points="856.0,826.4 862.4,839.5" fill="none" stroke="#2b2b2b" stroke-width="0.9" stroke-linejoin="round" stroke-linecap="round" />
<path d="M819.4,822 L848.2,791.4 Q851,789 853.6,791.4 Q856.5,794 855.4,796.8 L832,825.6" fill="none" stroke="#7d7d7d" stroke-width="0.9" stroke-linejoin="round" stroke-linecap="round" />
<polygon points="614.0,575.0 711.0,544.0 720.0,534.0 748.0,524.4 774.0,513.0 845.0,510.8 888.0,503.6 906.0,508.0 898.0,522.0 851.0,549.0 818.0,534.6 784.0,532.6 749.0,531.0 740.0,541.0 730.0,557.0 724.0,559.5 632.0,589.5" fill="#6d6e71" stroke="#1f1f1f" stroke-width="1.1" stroke-linejoin="round" />
<polygon points="711.0,544.0 720.0,534.4 727.5,554.0 725.0,559.0" fill="#808285" stroke="none" stroke-width="1" stroke-linejoin="round" />
<polyline points="720.0,534.4 727.5,554.0 730.0,557.0" fill="none" stroke="#333" stroke-width="0.8" stroke-linejoin="round" stroke-linecap="round" />
<polyline points="711.0,544.0 720.0,534.4" fill="none" stroke="#231f20" stroke-width="1.0" stroke-linejoin="round" stroke-linecap="round" />
<polygon points="614.0,575.0 632.0,589.5 631.0,609.0 614.0,597.0" fill="#808285" stroke="#1f1f1f" stroke-width="1.1" stroke-linejoin="round" />
<polygon points="906.0,508.0 926.0,514.8 938.0,537.6 951.0,568.0 955.2,570.0 958.0,580.6 928.6,601.6 931.4,618.4 928.6,625.4 925.8,629.6 869.8,687.9 829.3,677.1 830.0,672.0 897.1,619.8 909.0,597.4 917.4,589.7 892.2,565.2 860.0,553.3 851.0,549.0 898.0,522.0" fill="#6d6e71" stroke="#1f1f1f" stroke-width="1.1" stroke-linejoin="round" />
<polyline points="909.0,597.4 928.6,601.6" fill="none" stroke="#2a2a2a" stroke-width="0.8" stroke-linejoin="round" stroke-linecap="round" />
<polyline points="897.1,619.8 925.8,629.6" fill="none" stroke="#2a2a2a" stroke-width="0.8" stroke-linejoin="round" stroke-linecap="round" />
<polyline points="906.0,508.0 898.0,522.0 851.0,549.0" fill="none" stroke="#e8e8e8" stroke-width="0.9" stroke-linejoin="round" stroke-linecap="round" />
<polygon points="829.3,677.1 869.8,687.9 863.5,713.1 823.0,700.5" fill="#808285" stroke="#1f1f1f" stroke-width="1.1" stroke-linejoin="round" />
<polygon points="845.0,510.8 888.0,503.6 905.2,508.2 897.4,522.4 860.0,511.4" fill="#7b7c80" stroke="none" stroke-width="1" stroke-linejoin="round" />
<polyline points="860.0,511.4 897.4,522.4" fill="none" stroke="#3a3a3a" stroke-width="0.8" stroke-linejoin="round" stroke-linecap="round" />
<polygon points="906.8,508.6 926.0,514.8 919.0,527.0 899.5,521.5" fill="#7b7c80" stroke="none" stroke-width="1" stroke-linejoin="round" />
<polyline points="899.5,521.5 919.0,527.0" fill="none" stroke="#3a3a3a" stroke-width="0.8" stroke-linejoin="round" stroke-linecap="round" />
<polyline points="906.0,508.0 898.0,522.0 851.0,549.0" fill="none" stroke="#e8e8e8" stroke-width="0.9" stroke-linejoin="round" stroke-linecap="round" />
<ellipse cx="648.5" cy="576.5" rx="3.2" ry="1.8" fill="#d8d8d8" stroke="#222" stroke-width="0.8" />
<ellipse cx="850.6" cy="523.0" rx="3.2" ry="1.8" fill="#d8d8d8" stroke="#222" stroke-width="0.8" />
<ellipse cx="909.0" cy="544.0" rx="3.2" ry="1.8" fill="#d8d8d8" stroke="#222" stroke-width="0.8" />
<ellipse cx="853.0" cy="667.0" rx="3.2" ry="1.8" fill="#d8d8d8" stroke="#222" stroke-width="0.8" />
<polygon points="682.0,553.0 678.0,564.0 687.0,565.0" fill="#111" stroke="#111" stroke-width="0.8" stroke-linejoin="round" />
<polygon points="880.0,635.0 877.0,647.0 883.5,647.0" fill="#111" stroke="#111" stroke-width="0.8" stroke-linejoin="round" />
<polyline points="682.0,553.0 682.5,549.0" fill="none" stroke="#eee" stroke-width="0.8" stroke-linejoin="round" stroke-linecap="round" />
<polyline points="880.0,635.0 880.5,631.0" fill="none" stroke="#eee" stroke-width="0.8" stroke-linejoin="round" stroke-linecap="round" />
<polyline points="604.0,396.0 611.0,432.0" fill="none" stroke="#231f20" stroke-width="1.5" stroke-linejoin="round" stroke-linecap="round" stroke-dasharray="9 3 1.5 3" stroke-linecap="butt"/>
<polyline points="622.0,486.0 660.0,660.0" fill="none" stroke="#231f20" stroke-width="1.5" stroke-linejoin="round" stroke-linecap="round" stroke-dasharray="9 3 1.5 3" stroke-linecap="butt"/>
<polyline points="686.0,350.0 693.0,392.0" fill="none" stroke="#231f20" stroke-width="1.5" stroke-linejoin="round" stroke-linecap="round" stroke-dasharray="9 3 1.5 3" stroke-linecap="butt"/>
<polyline points="705.0,440.0 737.0,596.0" fill="none" stroke="#231f20" stroke-width="1.5" stroke-linejoin="round" stroke-linecap="round" stroke-dasharray="9 3 1.5 3" stroke-linecap="butt"/>
<polyline points="747.0,447.0 750.0,462.0" fill="none" stroke="#231f20" stroke-width="1.5" stroke-linejoin="round" stroke-linecap="round" stroke-dasharray="9 3 1.5 3" stroke-linecap="butt"/>
<polyline points="758.0,492.0 762.0,512.0" fill="none" stroke="#231f20" stroke-width="1.5" stroke-linejoin="round" stroke-linecap="round" stroke-dasharray="9 3 1.5 3" stroke-linecap="butt"/>
<polyline points="772.0,560.0 812.0,744.0" fill="none" stroke="#231f20" stroke-width="1.5" stroke-linejoin="round" stroke-linecap="round" stroke-dasharray="9 3 1.5 3" stroke-linecap="butt"/>
<polyline points="819.0,432.0 822.0,447.0" fill="none" stroke="#231f20" stroke-width="1.5" stroke-linejoin="round" stroke-linecap="round" stroke-dasharray="9 3 1.5 3" stroke-linecap="butt"/>
<polyline points="831.0,493.0 862.0,640.0" fill="none" stroke="#231f20" stroke-width="1.5" stroke-linejoin="round" stroke-linecap="round" stroke-dasharray="9 3 1.5 3" stroke-linecap="butt"/>
<polyline points="834.8,511.0 841.8,544.0" fill="none" stroke="#fff" stroke-width="3.0" stroke-linejoin="round" stroke-linecap="round" stroke-linecap="butt"/>
<polyline points="834.8,511.0 841.8,544.0" fill="none" stroke="#231f20" stroke-width="1.1" stroke-linejoin="round" stroke-linecap="round" stroke-dasharray="6 2.2 1.3 2.2" stroke-linecap="butt"/>
<polyline points="641.6,574.0 645.2,590.5" fill="none" stroke="#fff" stroke-width="3.0" stroke-linejoin="round" stroke-linecap="round" stroke-linecap="butt"/>
<polyline points="641.6,574.0 645.2,590.5" fill="none" stroke="#231f20" stroke-width="1.1" stroke-linejoin="round" stroke-linecap="round" stroke-dasharray="6 2.2 1.3 2.2" stroke-linecap="butt"/>
<polyline points="724.5,536.0 729.6,560.0" fill="none" stroke="#fff" stroke-width="3.0" stroke-linejoin="round" stroke-linecap="round" stroke-linecap="butt"/>
<polyline points="724.5,536.0 729.6,560.0" fill="none" stroke="#231f20" stroke-width="1.1" stroke-linejoin="round" stroke-linecap="round" stroke-dasharray="6 2.2 1.3 2.2" stroke-linecap="butt"/>
<ellipse cx="812.0" cy="753.4" rx="11.6" ry="8.2" fill="none" stroke="#2b2b2b" stroke-width="1" />
<ellipse cx="812.0" cy="753.4" rx="5.4" ry="3.6" fill="none" stroke="#2b2b2b" stroke-width="1" />
<polygon points="811.8,752.0 803.9,738.4 812.9,736.3" fill="#1a1a1a" stroke="none" stroke-width="0" stroke-linejoin="round" />
<g transform="translate(751.6 -80.8) scale(1.005 1) translate(-281 0)">
<polygon points="122.7,381.0 107.7,415.5 103.2,474.0 108.5,480.5 125.0,490.5 134.0,488.0 233.0,430.5 233.0,424.0 230.0,416.8 222.8,412.0 240.0,405.0 200.0,385.0 140.0,375.0" fill="#58595b" stroke="#1f1f1f" stroke-width="1.2" stroke-linejoin="round" />
<polygon points="125.0,384.0 110.5,420.0 110.0,472.0 216.5,411.7 240.0,405.0 190.0,385.0 140.0,377.0" fill="#808285" stroke="none" stroke-width="1" stroke-linejoin="round" />
<polygon points="110.0,472.0 216.5,411.7 223.0,412.5 229.5,417.0 231.5,424.0 231.5,428.5 133.0,485.5 125.0,487.5 110.0,478.0" fill="#6d6e71" stroke="none" stroke-width="1" stroke-linejoin="round" />
<polyline points="110.0,472.0 216.5,411.7" fill="none" stroke="#222" stroke-width="1" stroke-linejoin="round" stroke-linecap="round" />
<polyline points="124.5,386.0 110.5,420.0 110.0,472.0 112.0,477.0 126.0,486.5 133.5,485.0 231.5,428.5" fill="none" stroke="#222" stroke-width="0.9" stroke-linejoin="round" stroke-linecap="round" />
<ellipse cx="131.7" cy="474.7" rx="6.7" ry="3.6" fill="#58595b" stroke="#1a1a1a" stroke-width="1" />
<ellipse cx="132.2" cy="475.2" rx="4.2" ry="2.2" fill="#b5b7ba" stroke="none" stroke-width="1" />
<ellipse cx="212.3" cy="427.2" rx="6.5" ry="3.5" fill="#58595b" stroke="#1a1a1a" stroke-width="1" />
<ellipse cx="212.8" cy="427.7" rx="4.2" ry="2.2" fill="#b5b7ba" stroke="none" stroke-width="1" />
<polygon points="300.0,455.0 302.5,462.6 306.0,465.4 308.8,469.6 306.0,485.0 297.6,511.6 292.0,524.2 265.4,549.4 264.7,557.8 285.0,569.5 290.6,567.6 303.2,553.6 357.8,496.2 376.0,473.8 383.0,450.0 395.6,414.8 396.8,405.2 393.2,395.6" fill="#636467" stroke="#1f1f1f" stroke-width="1.2" stroke-linejoin="round" />
<polygon points="304.0,458.0 310.2,468.2 308.8,485.0 297.6,522.8 290.6,548.0 287.5,561.0 290.6,566.4 302.6,553.0 357.0,495.4 375.0,473.2 382.0,450.0 394.6,414.6 395.8,405.2 394.0,399.0 311.0,452.0" fill="#808285" stroke="none" stroke-width="1" stroke-linejoin="round" />
<polygon points="266.5,549.5 290.0,527.0 296.0,530.0 291.0,545.0 288.0,566.0 284.5,567.5 267.0,556.5" fill="#6d6e71" stroke="none" stroke-width="1" stroke-linejoin="round" />
<polyline points="290.0,527.0 266.5,549.5 266.5,556.5 285.0,567.5" fill="none" stroke="#222" stroke-width="0.9" stroke-linejoin="round" stroke-linecap="round" />
<polyline points="310.2,468.2 308.8,485.0 297.6,522.8 290.6,548.0 286.8,566.8" fill="none" stroke="#1f1f1f" stroke-width="1.1" stroke-linejoin="round" stroke-linecap="round" />
<ellipse cx="278.5" cy="547.0" rx="5.5" ry="3.2" fill="#58595b" stroke="#1a1a1a" stroke-width="1" />
<ellipse cx="279.0" cy="547.5" rx="3.4" ry="1.9" fill="#b5b7ba" stroke="none" stroke-width="1" />
<polygon points="123.5,379.0 155.0,369.5 230.0,346.2 245.6,342.6 264.8,340.2 269.6,336.0 282.8,331.8 338.0,321.5 352.3,320.2 431.5,344.4 437.0,353.2 439.2,363.1 438.1,367.8 392.0,389.0 388.4,392.0 393.2,395.6 395.8,401.0 311.0,461.0 304.5,464.5 290.0,452.0 275.6,444.4 259.4,433.0 242.0,421.6 219.8,410.8 208.4,405.4 194.0,400.6 170.0,395.8 150.0,390.5 128.0,384.0" fill="#808285" stroke="#1f1f1f" stroke-width="1.3" stroke-linejoin="round" />
<polygon points="439.2,363.1 438.1,367.8 392.0,389.0 388.4,392.0 389.0,388.0 392.5,385.5 437.4,364.4" fill="#58595b" stroke="none" stroke-width="1" stroke-linejoin="round" />
<polyline points="305.0,461.0 291.0,448.5 278.0,442.0 261.2,428.8 242.0,416.8 218.0,404.8 194.0,396.4 170.0,391.6 150.0,386.0 126.0,380.5" fill="none" stroke="#232323" stroke-width="1" stroke-linejoin="round" stroke-linecap="round" />
<polygon points="183.8,385.5 188.0,379.6 224.6,365.2 254.0,364.6 257.0,368.2 254.0,373.0 218.0,388.0 206.0,391.0 191.6,389.6 185.0,387.8" fill="#808285" stroke="#1f1f1f" stroke-width="1.1" stroke-linejoin="round" />
<polygon points="186.0,382.0 189.0,379.6 225.0,365.2 254.0,364.6 256.5,367.0 254.0,368.0 226.0,368.5 191.0,382.5 187.0,386.0" fill="#58595b" stroke="none" stroke-width="1" stroke-linejoin="round" />
<polygon points="235.8,371.6 254.6,370.4 254.0,372.6 232.8,381.6" fill="#fff" stroke="#333" stroke-width="0.6" stroke-linejoin="round" />
<polyline points="235.8,371.6 232.8,381.6" fill="none" stroke="#222" stroke-width="1" stroke-linejoin="round" stroke-linecap="round" />
<polygon points="183.8,385.5 188.0,379.6 224.6,365.2 254.0,364.6 257.0,368.2 254.0,373.0 218.0,388.0 206.0,391.0 191.6,389.6 185.0,387.8" fill="none" stroke="#1f1f1f" stroke-width="1.1" stroke-linejoin="round" />
<path d="M269.3,416.6 Q267.8,414.0 269.9,411.9 L269.9,411.9 Q272.0,409.8 274.8,408.7 L296.8,399.5 Q299.6,398.4 302.4,397.4 L313.6,393.4 Q316.4,392.4 319.4,392.2 L324.2,392.0 Q327.2,391.8 329.6,393.6 L329.6,393.6 Q332.0,395.4 332.8,398.3 L333.0,399.1 Q333.8,402.0 332.3,404.4 L332.3,404.4 Q330.8,406.8 328.1,408.2 L313.1,416.2 Q310.4,417.6 307.8,419.2 L302.2,422.6 Q299.6,424.2 296.6,424.3 L283.4,424.7 Q280.4,424.8 277.8,423.3 L273.4,420.9 Q270.8,419.4 269.3,416.8 Z" fill="#58595b" stroke="#1f1f1f" stroke-width="1.1" stroke-linejoin="round" />
<path d="M270.5,417.9 Q269.6,416.4 272.0,414.6 L272.0,414.6 Q274.4,412.8 277.2,411.7 L299.2,403.1 Q302.0,402.0 304.9,401.4 L324.3,397.8 Q327.2,397.2 329.3,399.3 L329.9,399.9 Q332.0,402.0 331.1,404.1 L331.1,404.1 Q330.2,406.2 327.6,407.6 L313.0,415.6 Q310.4,417.0 307.8,418.6 L302.2,422.0 Q299.6,423.6 296.6,423.7 L283.4,424.1 Q280.4,424.2 277.8,422.8 L274.0,420.8 Q271.4,419.4 270.5,417.9 Z" fill="#fff" stroke="#2a2a2a" stroke-width="0.8" stroke-linejoin="round" />
<path d="M308.0,359.4 Q308.0,357.6 310.5,356.0 L313.9,353.8 Q316.4,352.2 319.3,351.5 L349.5,344.9 Q352.4,344.2 355.4,344.6 L359.0,345.2 Q362.0,345.6 363.8,347.7 L363.8,347.7 Q365.6,349.8 365.0,352.7 L364.4,355.9 Q363.8,358.8 362.3,360.3 L362.3,360.3 Q360.8,361.8 358.0,362.9 L354.0,364.3 Q351.2,365.4 348.2,365.9 L323.0,370.1 Q320.0,370.6 317.0,370.1 L317.0,370.1 Q314.0,369.6 312.2,367.8 L312.2,367.8 Q310.4,366.0 309.2,363.6 L309.2,363.6 Q308.0,361.2 308.0,359.4 Z" fill="#58595b" stroke="#1f1f1f" stroke-width="1.1" stroke-linejoin="round" />
<path d="M309.2,361.2 Q309.2,360.0 311.9,358.8 L317.3,356.4 Q320.0,355.2 323.0,354.8 L351.8,351.4 Q354.8,351.0 357.7,351.9 L359.7,352.5 Q362.6,353.4 362.3,356.4 L362.3,356.4 Q362.0,359.4 359.3,360.8 L354.5,363.4 Q351.8,364.8 348.8,365.3 L323.0,369.7 Q320.0,370.2 317.0,369.7 L316.4,369.5 Q313.4,369.0 311.8,366.5 L310.8,364.9 Q309.2,362.4 309.2,361.2 Z" fill="#fff" stroke="#2a2a2a" stroke-width="0.8" stroke-linejoin="round" />
<ellipse cx="195.5" cy="367.5" rx="4.0" ry="2.1" fill="#808285" stroke="#222" stroke-width="1" />
<ellipse cx="330.5" cy="418.0" rx="5.0" ry="2.5" fill="#808285" stroke="#222" stroke-width="1" />
<ellipse cx="420.0" cy="359.5" rx="5.0" ry="2.5" fill="#808285" stroke="#222" stroke-width="1" />
<line x1="343.5" y1="326.6" x2="356.5" y2="323.8" stroke="#222" stroke-width="4.4" stroke-linecap="round"/><line x1="343.5" y1="326.6" x2="356.5" y2="323.8" stroke="#808285" stroke-width="2.6" stroke-linecap="round"/>
<line x1="412.5" y1="349" x2="421" y2="345" stroke="#222" stroke-width="4.6" stroke-linecap="round"/><line x1="412.5" y1="349" x2="421" y2="345" stroke="#808285" stroke-width="2.8" stroke-linecap="round"/>
<polyline points="312.8,419.6 318.8,442.4 323.6,467.6 336.8,472.4 339.8,477.2" fill="none" stroke="#1a1a1a" stroke-width="1" stroke-linejoin="round" stroke-linecap="round" stroke-dasharray="1.2 1.8"/>
<ellipse cx="340.0" cy="481.0" rx="6.5" ry="3.3" fill="none" stroke="#1a1a1a" stroke-width="1" stroke-dasharray="1.4 1.6"/>
<polyline points="208.4,424.0 208.4,415.6 223.4,424.0 224.0,412.6" fill="none" stroke="#fff" stroke-width="1.1" stroke-linejoin="round" stroke-linecap="round" />
<polyline points="211.0,419.5 222.0,423.0" fill="none" stroke="#fff" stroke-width="0.8" stroke-linejoin="round" stroke-linecap="round" />
<ellipse cx="318.5" cy="327.7" rx="4.0" ry="2.1" fill="#808285" stroke="#222" stroke-width="1" />
</g>
<polyline points="682.5,273.0 688.0,305.0" fill="none" stroke="#fff" stroke-width="3.0" stroke-linejoin="round" stroke-linecap="round" stroke-linecap="butt"/>
<polyline points="682.5,273.0 688.0,305.0" fill="none" stroke="#231f20" stroke-width="1.1" stroke-linejoin="round" stroke-linecap="round" stroke-dasharray="6 2.2 1.3 2.2" stroke-linecap="butt"/>
<polyline points="598.5,373.0 602.5,392.0" fill="none" stroke="#fff" stroke-width="3.0" stroke-linejoin="round" stroke-linecap="round" stroke-linecap="butt"/>
<polyline points="598.5,373.0 602.5,392.0" fill="none" stroke="#231f20" stroke-width="1.1" stroke-linejoin="round" stroke-linecap="round" stroke-dasharray="6 2.2 1.3 2.2" stroke-linecap="butt"/>
<polyline points="747.5,446.0 750.0,466.0" fill="none" stroke="#fff" stroke-width="3.0" stroke-linejoin="round" stroke-linecap="round" stroke-linecap="butt"/>
<polyline points="747.5,446.0 750.0,466.0" fill="none" stroke="#231f20" stroke-width="1.1" stroke-linejoin="round" stroke-linecap="round" stroke-dasharray="6 2.2 1.3 2.2" stroke-linecap="butt"/>
<polyline points="688.0,305.0 693.0,340.0" fill="none" stroke="#222" stroke-width="0.9" stroke-linejoin="round" stroke-linecap="round" stroke-dasharray="1.2 1.6"/>
<polyline points="781.0,319.0 783.0,331.0" fill="none" stroke="#231f20" stroke-width="1.5" stroke-linejoin="round" stroke-linecap="round" stroke-dasharray="9 3 1.5 3" stroke-linecap="butt"/>
<g transform="translate(697.0 402.5) rotate(-11)">
<path d="M-15.0,0 L-15.0,28.0 A15.0,8.0 0 0 0 15.0,28.0 L15.0,0 Z" fill="#d1d3d4" stroke="#231f20" stroke-width="1.3" stroke-linejoin="round"/>
<ellipse cx="0" cy="0" rx="15.0" ry="8.0" fill="#d6d8d9" stroke="#231f20" stroke-width="1.3"/>
<ellipse cx="0" cy="0.6" rx="6.3" ry="3.8" fill="#d1d3d4" stroke="#231f20" stroke-width="1.5"/>
</g>
<g transform="translate(615.5 449.5) rotate(-11)">
<path d="M-15.0,0 L-15.0,28.0 A15.0,8.0 0 0 0 15.0,28.0 L15.0,0 Z" fill="#d1d3d4" stroke="#231f20" stroke-width="1.3" stroke-linejoin="round"/>
<ellipse cx="0" cy="0" rx="15.0" ry="8.0" fill="#d6d8d9" stroke="#231f20" stroke-width="1.3"/>
<ellipse cx="0" cy="0.6" rx="6.3" ry="3.8" fill="#d1d3d4" stroke="#231f20" stroke-width="1.5"/>
</g>
<g transform="translate(824.0 457.5) rotate(-11)">
<path d="M-15.0,0 L-15.0,28.0 A15.0,8.0 0 0 0 15.0,28.0 L15.0,0 Z" fill="#d1d3d4" stroke="#231f20" stroke-width="1.3" stroke-linejoin="round"/>
<ellipse cx="0" cy="0" rx="15.0" ry="8.0" fill="#d6d8d9" stroke="#231f20" stroke-width="1.3"/>
<ellipse cx="0" cy="0.6" rx="6.3" ry="3.8" fill="#d1d3d4" stroke="#231f20" stroke-width="1.5"/>
</g>
<g transform="translate(763.5 522.0) rotate(-11)">
<path d="M-15.0,0 L-15.0,28.0 A15.0,8.0 0 0 0 15.0,28.0 L15.0,0 Z" fill="#d1d3d4" stroke="#231f20" stroke-width="1.3" stroke-linejoin="round"/>
<ellipse cx="0" cy="0" rx="15.0" ry="8.0" fill="#d6d8d9" stroke="#231f20" stroke-width="1.3"/>
<ellipse cx="0" cy="0.6" rx="6.3" ry="3.8" fill="#d1d3d4" stroke="#231f20" stroke-width="1.5"/>
</g>
<g transform="translate(661.0 177.5) rotate(-12.53)">
<path d="M-5.1,5.5 L-5.1,95.3 A5.1,2.2 0 0 0 5.1,95.3 L5.1,5.5 Z" fill="#d6d8d9" stroke="#231f20" stroke-width="1.45"/>
<path d="M-10.0,0 L-9.2,5.5 A9.2,4.5 0 0 0 9.2,5.5 L10.0,0 Z" fill="#c9c9c9" stroke="#231f20" stroke-width="1.4"/>
<ellipse cx="0" cy="0" rx="10.0" ry="5" fill="#d8d8d8" stroke="#231f20" stroke-width="1.4"/>
<ellipse cx="0" cy="0" rx="5.2" ry="2.6" fill="#e6e6e6" stroke="#3a3a3a" stroke-width="1"/>
</g>
<g transform="translate(761.0 222.5) rotate(-11.72)">
<path d="M-5.1,5.5 L-5.1,95.5 A5.1,2.2 0 0 0 5.1,95.5 L5.1,5.5 Z" fill="#d6d8d9" stroke="#231f20" stroke-width="1.45"/>
<path d="M-10.0,0 L-9.2,5.5 A9.2,4.5 0 0 0 9.2,5.5 L10.0,0 Z" fill="#c9c9c9" stroke="#231f20" stroke-width="1.4"/>
<ellipse cx="0" cy="0" rx="10.0" ry="5" fill="#d8d8d8" stroke="#231f20" stroke-width="1.4"/>
<ellipse cx="0" cy="0" rx="5.2" ry="2.6" fill="#e6e6e6" stroke="#3a3a3a" stroke-width="1"/>
</g>
<g transform="translate(579.0 277.0) rotate(-11.31)">
<path d="M-5.1,5.5 L-5.1,95.4 A5.1,2.2 0 0 0 5.1,95.4 L5.1,5.5 Z" fill="#d6d8d9" stroke="#231f20" stroke-width="1.45"/>
<path d="M-10.0,0 L-9.2,5.5 A9.2,4.5 0 0 0 9.2,5.5 L10.0,0 Z" fill="#c9c9c9" stroke="#231f20" stroke-width="1.4"/>
<ellipse cx="0" cy="0" rx="10.0" ry="5" fill="#d8d8d8" stroke="#231f20" stroke-width="1.4"/>
<ellipse cx="0" cy="0" rx="5.2" ry="2.6" fill="#e6e6e6" stroke="#3a3a3a" stroke-width="1"/>
</g>
<g transform="translate(727.4 350.5) rotate(-11.72)">
<path d="M-5.1,5.5 L-5.1,95.0 A5.1,2.2 0 0 0 5.1,95.0 L5.1,5.5 Z" fill="#d6d8d9" stroke="#231f20" stroke-width="1.45"/>
<path d="M-10.0,0 L-9.2,5.5 A9.2,4.5 0 0 0 9.2,5.5 L10.0,0 Z" fill="#c9c9c9" stroke="#231f20" stroke-width="1.4"/>
<ellipse cx="0" cy="0" rx="10.0" ry="5" fill="#d8d8d8" stroke="#231f20" stroke-width="1.4"/>
<ellipse cx="0" cy="0" rx="5.2" ry="2.6" fill="#e6e6e6" stroke="#3a3a3a" stroke-width="1"/>
</g>
<g transform="translate(647.4 549.6)">
<path d="M-3.6,2 L-3.6,14 L-1.6,16.5 L1.6,16.5 L3.6,14 L3.6,2 Z" fill="#d0d0d0" stroke="#222" stroke-width="1.1"/>
<path d="M-1.4,16.5 L-1.4,27 M1.4,16.5 L1.4,27" stroke="#fff" stroke-width="1" fill="none"/>
<path d="M-7.4,0 C-7.4,3 -4,5 0,5 C4,5 7.4,3 7.4,0 Z" fill="#58595b" stroke="#231f20" stroke-width="1.2"/>
<ellipse cx="0" cy="0" rx="7.2" ry="3.5" fill="#d1d3d4" stroke="#231f20" stroke-width="1.9"/>
<path d="M-3,-0.3 L3,0.3 M-1,1 L1,-1" stroke="#333" stroke-width="0.9"/>
</g>
<g transform="translate(850.6 496.6)">
<path d="M-3.6,2 L-3.6,14 L-1.6,16.5 L1.6,16.5 L3.6,14 L3.6,2 Z" fill="#d0d0d0" stroke="#222" stroke-width="1.1"/>
<path d="M-1.4,16.5 L-1.4,27 M1.4,16.5 L1.4,27" stroke="#fff" stroke-width="1" fill="none"/>
<path d="M-7.4,0 C-7.4,3 -4,5 0,5 C4,5 7.4,3 7.4,0 Z" fill="#58595b" stroke="#231f20" stroke-width="1.2"/>
<ellipse cx="0" cy="0" rx="7.2" ry="3.5" fill="#d1d3d4" stroke="#231f20" stroke-width="1.9"/>
<path d="M-3,-0.3 L3,0.3 M-1,1 L1,-1" stroke="#333" stroke-width="0.9"/>
</g>
<g transform="translate(909.6 517.0)">
<path d="M-3.6,2 L-3.6,14 L-1.6,16.5 L1.6,16.5 L3.6,14 L3.6,2 Z" fill="#d0d0d0" stroke="#222" stroke-width="1.1"/>
<path d="M-1.4,16.5 L-1.4,27 M1.4,16.5 L1.4,27" stroke="#fff" stroke-width="1" fill="none"/>
<path d="M-7.4,0 C-7.4,3 -4,5 0,5 C4,5 7.4,3 7.4,0 Z" fill="#58595b" stroke="#231f20" stroke-width="1.2"/>
<ellipse cx="0" cy="0" rx="7.2" ry="3.5" fill="#d1d3d4" stroke="#231f20" stroke-width="1.9"/>
<path d="M-3,-0.3 L3,0.3 M-1,1 L1,-1" stroke="#333" stroke-width="0.9"/>
</g>
<g transform="translate(853.6 640.0)">
<path d="M-3.6,2 L-3.6,14 L-1.6,16.5 L1.6,16.5 L3.6,14 L3.6,2 Z" fill="#d0d0d0" stroke="#222" stroke-width="1.1"/>
<path d="M-1.4,16.5 L-1.4,27 M1.4,16.5 L1.4,27" stroke="#fff" stroke-width="1" fill="none"/>
<path d="M-7.4,0 C-7.4,3 -4,5 0,5 C4,5 7.4,3 7.4,0 Z" fill="#58595b" stroke="#231f20" stroke-width="1.2"/>
<ellipse cx="0" cy="0" rx="7.2" ry="3.5" fill="#d1d3d4" stroke="#231f20" stroke-width="1.9"/>
<path d="M-3,-0.3 L3,0.3 M-1,1 L1,-1" stroke="#333" stroke-width="0.9"/>
</g>
<g>
<circle cx="692.5" cy="178.5" r="10.1" fill="#fff" stroke="#fff" stroke-width="3.2"/>
<path d="M685.7,171.0 Q679.9,175.9 674.5,178.5 Q679.9,181.1 685.7,186.0 Z" fill="#fff" stroke="#fff" stroke-width="3.2" stroke-linejoin="round"/>
<circle cx="692.5" cy="178.5" r="10.1" fill="#231f20"/>
<path d="M685.7,171.0 Q679.9,175.9 674.5,178.5 Q679.9,181.1 685.7,186.0 Z" fill="#231f20"/>
<text x="692.5" y="183.5" class="lb">7</text>
</g>
<g>
<circle cx="791.7" cy="224.0" r="10.1" fill="#fff" stroke="#fff" stroke-width="3.2"/>
<path d="M784.9,216.5 Q779.1,221.4 773.7,224.0 Q779.1,226.6 784.9,231.5 Z" fill="#fff" stroke="#fff" stroke-width="3.2" stroke-linejoin="round"/>
<circle cx="791.7" cy="224.0" r="10.1" fill="#231f20"/>
<path d="M784.9,216.5 Q779.1,221.4 773.7,224.0 Q779.1,226.6 784.9,231.5 Z" fill="#231f20"/>
<text x="791.7" y="229.0" class="lb">7</text>
</g>
<g>
<circle cx="610.0" cy="278.0" r="10.1" fill="#fff" stroke="#fff" stroke-width="3.2"/>
<path d="M603.2,270.5 Q597.4,275.4 592.0,278.0 Q597.4,280.6 603.2,285.5 Z" fill="#fff" stroke="#fff" stroke-width="3.2" stroke-linejoin="round"/>
<circle cx="610.0" cy="278.0" r="10.1" fill="#231f20"/>
<path d="M603.2,270.5 Q597.4,275.4 592.0,278.0 Q597.4,280.6 603.2,285.5 Z" fill="#231f20"/>
<text x="610.0" y="283.0" class="lb">7</text>
</g>
<g>
<circle cx="759.0" cy="351.0" r="10.1" fill="#fff" stroke="#fff" stroke-width="3.2"/>
<path d="M752.2,343.5 Q746.4,348.4 741.0,351.0 Q746.4,353.6 752.2,358.5 Z" fill="#fff" stroke="#fff" stroke-width="3.2" stroke-linejoin="round"/>
<circle cx="759.0" cy="351.0" r="10.1" fill="#231f20"/>
<path d="M752.2,343.5 Q746.4,348.4 741.0,351.0 Q746.4,353.6 752.2,358.5 Z" fill="#231f20"/>
<text x="759.0" y="356.0" class="lb">7</text>
</g>
<g>
<circle cx="932.5" cy="283.4" r="10.1" fill="#fff" stroke="#fff" stroke-width="3.2"/>
<path d="M925.7,275.9 Q919.9,280.8 914.5,283.4 Q919.9,286.0 925.7,290.9 Z" fill="#fff" stroke="#fff" stroke-width="3.2" stroke-linejoin="round"/>
<circle cx="932.5" cy="283.4" r="10.1" fill="#231f20"/>
<path d="M925.7,275.9 Q919.9,280.8 914.5,283.4 Q919.9,286.0 925.7,290.9 Z" fill="#231f20"/>
<text x="932.5" y="288.4" class="lb">1</text>
</g>
<g>
<circle cx="663.0" cy="421.6" r="10.1" fill="#fff" stroke="#fff" stroke-width="3.2"/>
<path d="M669.8,429.1 Q675.6,424.2 681.0,421.6 Q675.6,419.0 669.8,414.1 Z" fill="#fff" stroke="#fff" stroke-width="3.2" stroke-linejoin="round"/>
<circle cx="663.0" cy="421.6" r="10.1" fill="#231f20"/>
<path d="M669.8,429.1 Q675.6,424.2 681.0,421.6 Q675.6,419.0 669.8,414.1 Z" fill="#231f20"/>
<text x="663.0" y="426.6" class="lb">8</text>
</g>
<g>
<circle cx="593.0" cy="470.0" r="10.1" fill="#fff" stroke="#fff" stroke-width="3.2"/>
<path d="M599.8,477.5 Q605.6,472.6 611.0,470.0 Q605.6,467.4 599.8,462.5 Z" fill="#fff" stroke="#fff" stroke-width="3.2" stroke-linejoin="round"/>
<circle cx="593.0" cy="470.0" r="10.1" fill="#231f20"/>
<path d="M599.8,477.5 Q605.6,472.6 611.0,470.0 Q605.6,467.4 599.8,462.5 Z" fill="#231f20"/>
<text x="593.0" y="475.0" class="lb">8</text>
</g>
<g>
<circle cx="863.0" cy="468.0" r="10.1" fill="#fff" stroke="#fff" stroke-width="3.2"/>
<path d="M856.2,460.5 Q850.4,465.4 845.0,468.0 Q850.4,470.6 856.2,475.5 Z" fill="#fff" stroke="#fff" stroke-width="3.2" stroke-linejoin="round"/>
<circle cx="863.0" cy="468.0" r="10.1" fill="#231f20"/>
<path d="M856.2,460.5 Q850.4,465.4 845.0,468.0 Q850.4,470.6 856.2,475.5 Z" fill="#231f20"/>
<text x="863.0" y="473.0" class="lb">8</text>
</g>
<g>
<circle cx="802.0" cy="534.0" r="10.1" fill="#fff" stroke="#fff" stroke-width="3.2"/>
<path d="M795.2,526.5 Q789.4,531.4 784.0,534.0 Q789.4,536.6 795.2,541.5 Z" fill="#fff" stroke="#fff" stroke-width="3.2" stroke-linejoin="round"/>
<circle cx="802.0" cy="534.0" r="10.1" fill="#231f20"/>
<path d="M795.2,526.5 Q789.4,531.4 784.0,534.0 Q789.4,536.6 795.2,541.5 Z" fill="#231f20"/>
<text x="802.0" y="539.0" class="lb">8</text>
</g>
<g>
<circle cx="876.0" cy="506.0" r="10.1" fill="#fff" stroke="#fff" stroke-width="3.2"/>
<path d="M869.2,498.5 Q863.4,503.4 858.0,506.0 Q863.4,508.6 869.2,513.5 Z" fill="#fff" stroke="#fff" stroke-width="3.2" stroke-linejoin="round"/>
<circle cx="876.0" cy="506.0" r="10.1" fill="#231f20"/>
<path d="M869.2,498.5 Q863.4,503.4 858.0,506.0 Q863.4,508.6 869.2,513.5 Z" fill="#231f20"/>
<text x="876.0" y="511.0" class="lb">6</text>
</g>
<g>
<circle cx="935.0" cy="527.0" r="10.1" fill="#fff" stroke="#fff" stroke-width="3.2"/>
<path d="M928.2,519.5 Q922.4,524.4 917.0,527.0 Q922.4,529.6 928.2,534.5 Z" fill="#fff" stroke="#fff" stroke-width="3.2" stroke-linejoin="round"/>
<circle cx="935.0" cy="527.0" r="10.1" fill="#231f20"/>
<path d="M928.2,519.5 Q922.4,524.4 917.0,527.0 Q922.4,529.6 928.2,534.5 Z" fill="#231f20"/>
<text x="935.0" y="532.0" class="lb">6</text>
</g>
<g>
<circle cx="828.0" cy="650.6" r="10.1" fill="#fff" stroke="#fff" stroke-width="3.2"/>
<path d="M834.8,658.1 Q840.6,653.2 846.0,650.6 Q840.6,648.0 834.8,643.1 Z" fill="#fff" stroke="#fff" stroke-width="3.2" stroke-linejoin="round"/>
<circle cx="828.0" cy="650.6" r="10.1" fill="#231f20"/>
<path d="M834.8,658.1 Q840.6,653.2 846.0,650.6 Q840.6,648.0 834.8,643.1 Z" fill="#231f20"/>
<text x="828.0" y="655.6" class="lb">6</text>
</g>
<g>
<circle cx="647.0" cy="525.6" r="10.1" fill="#fff" stroke="#fff" stroke-width="3.2"/>
<path d="M639.5,532.4 Q644.4,538.2 647.0,543.6 Q649.6,538.2 654.5,532.4 Z" fill="#fff" stroke="#fff" stroke-width="3.2" stroke-linejoin="round"/>
<circle cx="647.0" cy="525.6" r="10.1" fill="#231f20"/>
<path d="M639.5,532.4 Q644.4,538.2 647.0,543.6 Q649.6,538.2 654.5,532.4 Z" fill="#231f20"/>
<text x="647.0" y="530.6" class="lb">6</text>
</g>
<g>
<circle cx="593.0" cy="576.0" r="10.1" fill="#fff" stroke="#fff" stroke-width="3.2"/>
<path d="M599.8,583.5 Q605.6,578.6 611.0,576.0 Q605.6,573.4 599.8,568.5 Z" fill="#fff" stroke="#fff" stroke-width="3.2" stroke-linejoin="round"/>
<circle cx="593.0" cy="576.0" r="10.1" fill="#231f20"/>
<path d="M599.8,583.5 Q605.6,578.6 611.0,576.0 Q605.6,573.4 599.8,568.5 Z" fill="#231f20"/>
<text x="593.0" y="581.0" class="lb">4</text>
</g>
<g>
<circle cx="892.0" cy="690.4" r="10.1" fill="#fff" stroke="#fff" stroke-width="3.2"/>
<path d="M885.2,682.9 Q879.4,687.8 874.0,690.4 Q879.4,693.0 885.2,697.9 Z" fill="#fff" stroke="#fff" stroke-width="3.2" stroke-linejoin="round"/>
<circle cx="892.0" cy="690.4" r="10.1" fill="#231f20"/>
<path d="M885.2,682.9 Q879.4,687.8 874.0,690.4 Q879.4,693.0 885.2,697.9 Z" fill="#231f20"/>
<text x="892.0" y="695.4" class="lb">5</text>
</g>
<g>
<rect x="466" y="745.5" width="66" height="71" fill="#fff"/>
<path d="M468,788 L468,814.4 L512,814.4 L512,809.6" fill="#fff" stroke="#231f20" stroke-width="2" stroke-linejoin="miter"/>
<path d="M502.4,804.2 L528.6,790.4 L528.6,794 L507.6,806.8 Z" fill="#fff" stroke="#231f20" stroke-width="1.7" stroke-linejoin="miter"/>
<path d="M468,788 L468,809.6 L512,809.6 L502.4,804.2 L528.6,790.4 L522,786.4 L498,797 L478,794 Z" fill="#fff" stroke="#231f20" stroke-width="2" stroke-linejoin="miter"/>
<path d="M476,804 C474,796 478,788 482,783 C481,778 486,772 490,768 C494,763 495,756 496,751 C497,747 501,746 505,747 L512,750 L520,764 L524,772 L524,796 L500,802 Z" fill="#fff" stroke="none"/>
<path d="M477.2,804 C474.8,797.6 478.4,788 483.2,783.2 C481.6,778.4 487.2,770.4 494.4,764 C495.4,759 494.8,754.4 497,751 C498.4,748 500.5,747.2 503.2,747.6" fill="none" stroke="#231f20" stroke-width="0.7"/>
<path d="M486.4,779 C487,774.5 492,771.5 497,772 L500,766 L506,764 L514,770 L516,776 C517,782 514,789 509.6,792.4 C505,794.4 498,793.6 495.6,791 C493,789 491,787.5 489,786.5 C486.6,785 486,782 486.4,779 Z" fill="#231f20"/>
<path d="M499.5,758.5 C500.5,755.5 504.5,755 506.5,757 L514,769.5 L517.5,772.5 L512,782 L503,779 L505.5,771.5 L499.5,779 L494.5,776.5 L501,765.5 Z" fill="#231f20"/>
<path d="M500.2,768.4 L495.2,775.2 L497.6,777.6 L503.2,770.4 Z" fill="#fff"/>
<ellipse cx="503.8" cy="752" rx="3.4" ry="4" fill="#231f20" transform="rotate(-15 503.8 752)"/>
<path d="M512,764 L519.2,766.4 L516,768.8 L513,767.5 Z" fill="#231f20"/>
<ellipse cx="514.6" cy="781.4" rx="4.9" ry="9.3" fill="#fff" stroke="#231f20" stroke-width="2.5" transform="rotate(22 514.6 781.4)"/>
<ellipse cx="485.6" cy="796" rx="4.9" ry="9.3" fill="#fff" stroke="#231f20" stroke-width="2.5" transform="rotate(24 485.6 796)"/>
<path d="M481,785.5 C485,781.5 490.5,782.5 493,786.5" fill="none" stroke="#231f20" stroke-width="1.8"/>
</g>
</svg>
</body></html>
